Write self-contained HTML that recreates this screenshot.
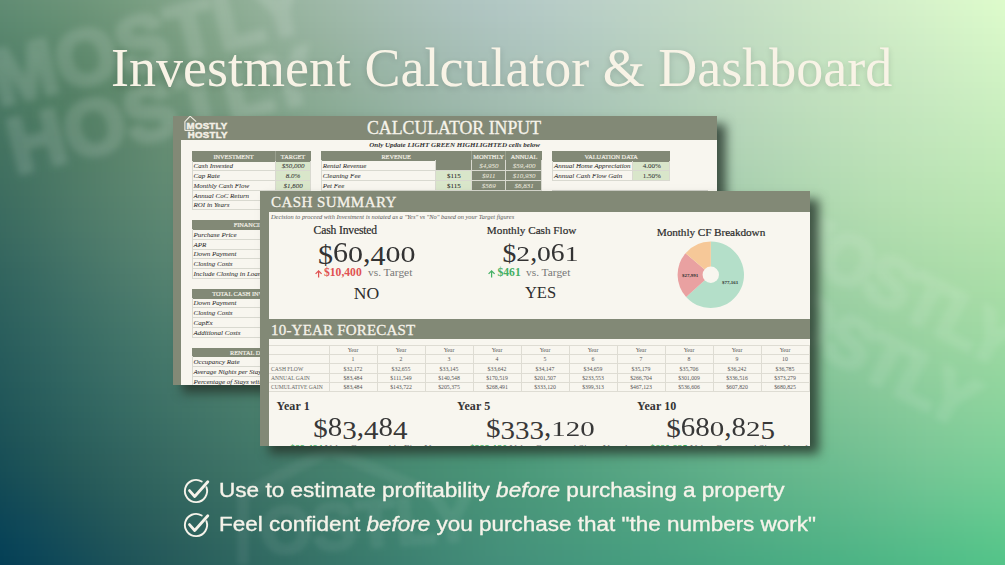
<!DOCTYPE html>
<html><head><meta charset="utf-8">
<style>
*{margin:0;padding:0;box-sizing:border-box}
html,body{width:1005px;height:565px;overflow:hidden}
body{position:relative;font-family:"Liberation Serif",serif;background:#3a7a6a}
.t{position:absolute;white-space:nowrap;line-height:1}
.r{position:absolute}
.layer{position:absolute;left:0;top:0;width:1005px;height:565px}
#bgB{background:linear-gradient(90deg,#0c4258 0%,#1e6466 28%,#3b8a72 50%,#4ea882 75%,#5cc48c 100%)}
#bgM{background:linear-gradient(90deg,#356760 0%,#4a8270 30%,#7aa890 55%,#9cd0a4 80%,#aadda8 100%);
  -webkit-mask-image:linear-gradient(180deg,transparent 0%,#000 50%,transparent 100%)}
#bgT{background:linear-gradient(90deg,#5e8a70 0%,#7a9e86 25%,#b0c6c2 50%,#c4e2c6 75%,#d8f7c8 100%);
  -webkit-mask-image:linear-gradient(180deg,#000 0%,transparent 50%)}
.wm{position:absolute;font-family:"Liberation Sans",sans-serif;font-weight:700;color:rgba(255,255,255,.10);-webkit-text-stroke:3px rgba(255,255,255,.10);line-height:1;filter:blur(2.5px);white-space:nowrap}
.ds{display:inline-block;line-height:1;transform-origin:50% 83.75%;transform:translateY(.05em) scaleY(.9)}
.dx,.da,.dd{display:inline-block;line-height:1;transform-origin:50% 83.75%}
.dx{transform:scaleY(.735)}
.da{transform:scaleY(.95)}
.dd{transform:translateY(.115em) scaleY(.89)}
.card{position:absolute;background:#f8f6ef;overflow:hidden}
.shadow{position:absolute;box-shadow:9px 8px 10px 0px rgba(38,52,42,.8)}
</style></head><body>

<div style="position:absolute;left:-20px;top:-20px;width:1045px;height:610px;filter:blur(3px)">
<div style="position:absolute;left:0;top:0px;width:1045px;height:7px;background:linear-gradient(90deg,#618d75 0.0%,#699379 4.5%,#70987c 9.1%,#799e82 13.6%,#83a58a 18.2%,#8dad94 22.7%,#97b49e 27.3%,#9fb9a8 31.8%,#a6beb1 36.4%,#acc2ba 40.9%,#b1c6c1 45.5%,#b5cac7 50.0%,#b9cec9 54.5%,#bdd2c9 59.1%,#c1d7c9 63.6%,#c4dbc8 68.2%,#c7e0c7 72.7%,#cce5c8 77.3%,#d0eac9 81.8%,#d5f0cb 86.4%,#daf5cc 90.9%,#defacd 95.5%,#e2ffce 100.0%)"></div>
<div style="position:absolute;left:0;top:6px;width:1045px;height:7px;background:linear-gradient(90deg,#608c74 0.0%,#679177 4.5%,#6f977b 9.1%,#779d81 13.6%,#82a489 18.2%,#8cac93 22.7%,#96b39d 27.3%,#9eb9a7 31.8%,#a5bdb0 36.4%,#abc1b9 40.9%,#b0c5c0 45.5%,#b4c9c6 50.0%,#b8cdc8 54.5%,#bcd2c9 59.1%,#c0d6c8 63.6%,#c3dbc7 68.2%,#c6dfc7 72.7%,#cbe4c7 77.3%,#d0eac9 81.8%,#d4efca 86.4%,#d9f4cb 90.9%,#ddfacc 95.5%,#e1ffcd 100.0%)"></div>
<div style="position:absolute;left:0;top:12px;width:1045px;height:7px;background:linear-gradient(90deg,#5f8a73 0.0%,#669076 4.5%,#6d967a 9.1%,#769c80 13.6%,#80a388 18.2%,#8bab92 22.7%,#95b29c 27.3%,#9db8a6 31.8%,#a4bdaf 36.4%,#aac1b8 40.9%,#afc5bf 45.5%,#b3c9c5 50.0%,#b8cdc7 54.5%,#bbd1c8 59.1%,#bfd5c7 63.6%,#c2dac7 68.2%,#c6dfc6 72.7%,#cae4c7 77.3%,#cfe9c8 81.8%,#d3eeca 86.4%,#d8f4cb 90.9%,#dcf9cc 95.5%,#e0fecd 100.0%)"></div>
<div style="position:absolute;left:0;top:18px;width:1045px;height:7px;background:linear-gradient(90deg,#5d8972 0.0%,#658f75 4.5%,#6c9479 9.1%,#749b7e 13.6%,#7fa287 18.2%,#8aaa91 22.7%,#94b29b 27.3%,#9cb7a5 31.8%,#a3bcae 36.4%,#a9c0b7 40.9%,#aec4bf 45.5%,#b2c8c4 50.0%,#b7ccc7 54.5%,#bbd0c7 59.1%,#bed5c7 63.6%,#c1d9c6 68.2%,#c5dec5 72.7%,#c9e3c6 77.3%,#cee8c7 81.8%,#d2eec9 86.4%,#d7f3ca 90.9%,#dbf8cb 95.5%,#dffdcc 100.0%)"></div>
<div style="position:absolute;left:0;top:24px;width:1045px;height:7px;background:linear-gradient(90deg,#5c8871 0.0%,#638e74 4.5%,#6a9377 9.1%,#739a7d 13.6%,#7ea186 18.2%,#89aa90 22.7%,#93b19a 27.3%,#9bb6a4 31.8%,#a2bbad 36.4%,#a8bfb6 40.9%,#adc3be 45.5%,#b1c7c3 50.0%,#b6cbc6 54.5%,#bad0c6 59.1%,#bdd4c6 63.6%,#c1d9c5 68.2%,#c4ddc5 72.7%,#c8e3c5 77.3%,#cde8c7 81.8%,#d2edc8 86.4%,#d6f2ca 90.9%,#daf8ca 95.5%,#defdcb 100.0%)"></div>
<div style="position:absolute;left:0;top:30px;width:1045px;height:7px;background:linear-gradient(90deg,#5b8770 0.0%,#628d73 4.5%,#699276 9.1%,#72987c 13.6%,#7ca084 18.2%,#88a98f 22.7%,#92b099 27.3%,#9ab6a3 31.8%,#a1baac 36.4%,#a7bfb5 40.9%,#acc2bd 45.5%,#b1c6c3 50.0%,#b5cbc5 54.5%,#b9cfc5 59.1%,#bcd4c5 63.6%,#c0d8c5 68.2%,#c3ddc4 72.7%,#c8e2c5 77.3%,#cce7c6 81.8%,#d1edc8 86.4%,#d5f2c9 90.9%,#d9f7ca 95.5%,#ddfccb 100.0%)"></div>
<div style="position:absolute;left:0;top:36px;width:1045px;height:7px;background:linear-gradient(90deg,#59866f 0.0%,#608c72 4.5%,#679175 9.1%,#70977b 13.6%,#7b9f83 18.2%,#86a88e 22.7%,#91af98 27.3%,#99b5a2 31.8%,#a0baab 36.4%,#a6beb4 40.9%,#abc2bc 45.5%,#b0c6c2 50.0%,#b4cac4 54.5%,#b8cfc5 59.1%,#bcd3c4 63.6%,#bfd8c4 68.2%,#c2dcc3 72.7%,#c7e2c4 77.3%,#cbe7c6 81.8%,#d0ecc7 86.4%,#d4f1c8 90.9%,#d8f6c9 95.5%,#dcfbca 100.0%)"></div>
<div style="position:absolute;left:0;top:42px;width:1045px;height:7px;background:linear-gradient(90deg,#58856e 0.0%,#5f8b71 4.5%,#668f73 9.1%,#6f9679 13.6%,#7a9e82 18.2%,#85a78c 22.7%,#90ae97 27.3%,#98b4a1 31.8%,#9fb9aa 36.4%,#a5bdb3 40.9%,#aac1bb 45.5%,#afc5c0 50.0%,#b3c9c3 54.5%,#b7cec4 59.1%,#bbd3c4 63.6%,#bed7c3 68.2%,#c2dcc3 72.7%,#c6e1c4 77.3%,#cbe6c5 81.8%,#cfebc7 86.4%,#d3f1c8 90.9%,#d7f6c9 95.5%,#dbfbc9 100.0%)"></div>
<div style="position:absolute;left:0;top:48px;width:1045px;height:7px;background:linear-gradient(90deg,#56846d 0.0%,#5d8a70 4.5%,#648e72 9.1%,#6d9578 13.6%,#799d81 18.2%,#84a68b 22.7%,#8ead96 27.3%,#97b3a0 31.8%,#9eb8a9 36.4%,#a4bcb2 40.9%,#a9c0b9 45.5%,#aec4bf 50.0%,#b2c9c2 54.5%,#b6cdc3 59.1%,#bad2c3 63.6%,#bdd7c3 68.2%,#c1dcc2 72.7%,#c5e1c3 77.3%,#cae6c5 81.8%,#ceebc6 86.4%,#d2f0c7 90.9%,#d6f5c8 95.5%,#dafac9 100.0%)"></div>
<div style="position:absolute;left:0;top:54px;width:1045px;height:7px;background:linear-gradient(90deg,#55836c 0.0%,#5c886e 4.5%,#628d71 9.1%,#6c9377 13.6%,#779c80 18.2%,#83a58a 22.7%,#8dac95 27.3%,#96b29f 31.8%,#9db7a8 36.4%,#a3bcb1 40.9%,#a8c0b8 45.5%,#adc4be 50.0%,#b1c8c1 54.5%,#b5cdc2 59.1%,#b9d1c2 63.6%,#bdd6c2 68.2%,#c0dbc2 72.7%,#c5e0c3 77.3%,#c9e5c4 81.8%,#cdeac5 86.4%,#d1efc7 90.9%,#d5f4c7 95.5%,#d9f9c8 100.0%)"></div>
<div style="position:absolute;left:0;top:60px;width:1045px;height:7px;background:linear-gradient(90deg,#54826b 0.0%,#5a876d 4.5%,#618b6f 9.1%,#6a9275 13.6%,#769b7f 18.2%,#82a489 22.7%,#8cac94 27.3%,#95b29d 31.8%,#9cb6a7 36.4%,#a2bbb0 40.9%,#a7bfb7 45.5%,#acc3bd 50.0%,#b0c7c0 54.5%,#b4ccc1 59.1%,#b8d1c1 63.6%,#bcd6c1 68.2%,#c0dbc1 72.7%,#c4e0c2 77.3%,#c8e5c3 81.8%,#cceac5 86.4%,#d0efc6 90.9%,#d4f4c7 95.5%,#d8f9c7 100.0%)"></div>
<div style="position:absolute;left:0;top:66px;width:1045px;height:7px;background:linear-gradient(90deg,#52806a 0.0%,#59866c 4.5%,#5f8a6e 9.1%,#699174 13.6%,#759a7e 18.2%,#81a388 22.7%,#8bab93 27.3%,#93b19c 31.8%,#9ab6a6 36.4%,#a1baae 40.9%,#a6beb6 45.5%,#abc2bc 50.0%,#afc7bf 54.5%,#b3cbc0 59.1%,#b7d0c0 63.6%,#bbd5c1 68.2%,#bfdac1 72.7%,#c3dfc2 77.3%,#c8e4c3 81.8%,#cce9c4 86.4%,#cfeec5 90.9%,#d3f3c6 95.5%,#d6f8c7 100.0%)"></div>
<div style="position:absolute;left:0;top:72px;width:1045px;height:7px;background:linear-gradient(90deg,#517f69 0.0%,#57846b 4.5%,#5e896d 9.1%,#679073 13.6%,#74997d 18.2%,#7fa287 22.7%,#8aaa92 27.3%,#92b09b 31.8%,#99b5a5 36.4%,#a0b9ad 40.9%,#a5bdb5 45.5%,#aac2ba 50.0%,#afc6be 54.5%,#b3cbbf 59.1%,#b6d0c0 63.6%,#bad5c0 68.2%,#bedac0 72.7%,#c3dfc1 77.3%,#c7e4c2 81.8%,#cbe9c4 86.4%,#ceedc5 90.9%,#d2f2c5 95.5%,#d5f7c6 100.0%)"></div>
<div style="position:absolute;left:0;top:78px;width:1045px;height:7px;background:linear-gradient(90deg,#507e68 0.0%,#56836a 4.5%,#5c876b 9.1%,#668f72 13.6%,#72987c 18.2%,#7ea186 22.7%,#89a991 27.3%,#91af9a 31.8%,#98b4a4 36.4%,#9fb9ac 40.9%,#a4bdb4 45.5%,#a9c1b9 50.0%,#aec5bc 54.5%,#b2cabe 59.1%,#b6cfbf 63.6%,#bad4bf 68.2%,#bedac0 72.7%,#c2dfc0 77.3%,#c6e4c2 81.8%,#cae8c3 86.4%,#cdedc4 90.9%,#d1f2c5 95.5%,#d4f7c5 100.0%)"></div>
<div style="position:absolute;left:0;top:84px;width:1045px;height:7px;background:linear-gradient(90deg,#4e7d67 0.0%,#548268 4.5%,#5b866a 9.1%,#658e71 13.6%,#71977b 18.2%,#7da085 22.7%,#88a890 27.3%,#90ae99 31.8%,#97b3a3 36.4%,#9db8ab 40.9%,#a3bcb2 45.5%,#a8c0b8 50.0%,#adc5bb 54.5%,#b1cabd 59.1%,#b5cfbe 63.6%,#b9d4bf 68.2%,#bdd9bf 72.7%,#c1dec0 77.3%,#c5e3c1 81.8%,#c9e8c2 86.4%,#ccecc4 90.9%,#d0f1c4 95.5%,#d3f6c5 100.0%)"></div>
<div style="position:absolute;left:0;top:90px;width:1045px;height:7px;background:linear-gradient(90deg,#4d7c66 0.0%,#538067 4.5%,#598569 9.1%,#648d70 13.6%,#70967a 18.2%,#7c9f84 22.7%,#86a78f 27.3%,#8fae98 31.8%,#96b3a1 36.4%,#9cb7aa 40.9%,#a2bbb1 45.5%,#a7bfb7 50.0%,#acc4ba 54.5%,#b0c9bc 59.1%,#b4cebd 63.6%,#b8d3be 68.2%,#bdd9bf 72.7%,#c1debf 77.3%,#c5e3c0 81.8%,#c8e7c2 86.4%,#ccebc3 90.9%,#cff0c4 95.5%,#d2f5c4 100.0%)"></div>
<div style="position:absolute;left:0;top:96px;width:1045px;height:7px;background:linear-gradient(90deg,#4c7b66 0.0%,#527f66 4.5%,#588368 9.1%,#628c6f 13.6%,#6f9579 18.2%,#7b9e83 22.7%,#85a68e 27.3%,#8ead97 31.8%,#95b2a0 36.4%,#9bb6a9 40.9%,#a1bbb0 45.5%,#a6bfb5 50.0%,#abc4b9 54.5%,#afc9bb 59.1%,#b3cebc 63.6%,#b7d3bd 68.2%,#bcd8be 72.7%,#c0ddbf 77.3%,#c4e2c0 81.8%,#c7e7c1 86.4%,#cbebc2 90.9%,#cef0c3 95.5%,#d1f5c3 100.0%)"></div>
<div style="position:absolute;left:0;top:102px;width:1045px;height:7px;background:linear-gradient(90deg,#4b7a65 0.0%,#507e65 4.5%,#568267 9.1%,#618b6e 13.6%,#6e9478 18.2%,#7a9e83 22.7%,#84a68d 27.3%,#8dac96 31.8%,#94b19f 36.4%,#9ab6a8 40.9%,#a0baaf 45.5%,#a5beb4 50.0%,#aac3b8 54.5%,#aec8ba 59.1%,#b2cdbb 63.6%,#b7d3bc 68.2%,#bbd8bd 72.7%,#bfddbe 77.3%,#c3e2bf 81.8%,#c6e6c0 86.4%,#caeac2 90.9%,#cdefc2 95.5%,#d0f4c3 100.0%)"></div>
<div style="position:absolute;left:0;top:108px;width:1045px;height:7px;background:linear-gradient(90deg,#497864 0.0%,#4f7d65 4.5%,#558166 9.1%,#608a6d 13.6%,#6d9477 18.2%,#799d82 22.7%,#83a58c 27.3%,#8cab95 31.8%,#93b09e 36.4%,#99b5a6 40.9%,#9fb9ad 45.5%,#a4bdb3 50.0%,#a9c2b6 54.5%,#adc7b9 59.1%,#b1cdba 63.6%,#b6d2bc 68.2%,#bad8bd 72.7%,#beddbe 77.3%,#c2e1bf 81.8%,#c6e6c0 86.4%,#c9eac1 90.9%,#cceec2 95.5%,#cff3c2 100.0%)"></div>
<div style="position:absolute;left:0;top:114px;width:1045px;height:7px;background:linear-gradient(90deg,#487763 0.0%,#4e7c64 4.5%,#548065 9.1%,#5f896d 13.6%,#6c9377 18.2%,#789c81 22.7%,#82a48b 27.3%,#8aaa94 31.8%,#92b09d 36.4%,#98b4a5 40.9%,#9eb8ac 45.5%,#a3bdb1 50.0%,#a8c2b5 54.5%,#acc7b8 59.1%,#b0ccba 63.6%,#b5d2bb 68.2%,#bad7bc 72.7%,#bedcbd 77.3%,#c1e1be 81.8%,#c5e5bf 86.4%,#c8e9c0 90.9%,#cbeec1 95.5%,#cef3c1 100.0%)"></div>
<div style="position:absolute;left:0;top:120px;width:1045px;height:7px;background:linear-gradient(90deg,#477663 0.0%,#4d7b63 4.5%,#537f65 9.1%,#5e886c 13.6%,#6b9276 18.2%,#779b80 22.7%,#81a38a 27.3%,#89aa93 31.8%,#90af9c 36.4%,#97b3a4 40.9%,#9db8ab 45.5%,#a2bcb0 50.0%,#a6c1b4 54.5%,#abc6b7 59.1%,#afccb9 63.6%,#b4d1ba 68.2%,#b9d7bc 72.7%,#bddcbd 77.3%,#c1e1bd 81.8%,#c4e5be 86.4%,#c7e9c0 90.9%,#caedc0 95.5%,#cdf2c0 100.0%)"></div>
<div style="position:absolute;left:0;top:126px;width:1045px;height:7px;background:linear-gradient(90deg,#467562 0.0%,#4c7a63 4.5%,#527f64 9.1%,#5e876c 13.6%,#6a9176 18.2%,#769a80 22.7%,#80a289 27.3%,#88a992 31.8%,#8fae9b 36.4%,#96b3a3 40.9%,#9bb7aa 45.5%,#a1bbaf 50.0%,#a5c0b3 54.5%,#aac6b6 59.1%,#aecbb8 63.6%,#b3d1b9 68.2%,#b8d6bb 72.7%,#bcdcbc 77.3%,#c0e0bd 81.8%,#c3e4be 86.4%,#c6e8bf 90.9%,#c9edbf 95.5%,#ccf1c0 100.0%)"></div>
<div style="position:absolute;left:0;top:132px;width:1045px;height:7px;background:linear-gradient(90deg,#457462 0.0%,#4b7962 4.5%,#527e64 9.1%,#5d876c 13.6%,#699175 18.2%,#759a7f 22.7%,#7fa288 27.3%,#87a891 31.8%,#8ead9a 36.4%,#94b2a2 40.9%,#9ab6a8 45.5%,#a0bbae 50.0%,#a4c0b2 54.5%,#a9c5b5 59.1%,#adcbb7 63.6%,#b2d0b9 68.2%,#b7d6ba 72.7%,#bbdbbb 77.3%,#bfe0bc 81.8%,#c2e4bd 86.4%,#c5e8be 90.9%,#c8ecbf 95.5%,#cbf1bf 100.0%)"></div>
<div style="position:absolute;left:0;top:138px;width:1045px;height:7px;background:linear-gradient(90deg,#447461 0.0%,#4a7862 4.5%,#517e64 9.1%,#5c866b 13.6%,#689075 18.2%,#74997e 22.7%,#7ea187 27.3%,#86a790 31.8%,#8dad99 36.4%,#93b1a1 40.9%,#99b6a7 45.5%,#9ebaac 50.0%,#a3bfb1 54.5%,#a7c5b4 59.1%,#accab6 63.6%,#b1d0b8 68.2%,#b6d5b9 72.7%,#badbba 77.3%,#bedfbb 81.8%,#c1e4bc 86.4%,#c4e7bd 90.9%,#c7ecbe 95.5%,#caf0be 100.0%)"></div>
<div style="position:absolute;left:0;top:144px;width:1045px;height:7px;background:linear-gradient(90deg,#437361 0.0%,#497862 4.5%,#517d64 9.1%,#5c866b 13.6%,#688f74 18.2%,#73987e 22.7%,#7ca087 27.3%,#85a690 31.8%,#8cac98 36.4%,#92b19f 40.9%,#98b5a6 45.5%,#9dbaab 50.0%,#a2bfaf 54.5%,#a6c4b2 59.1%,#abcab5 63.6%,#b0cfb7 68.2%,#b5d5b9 72.7%,#b9daba 77.3%,#bddfbb 81.8%,#c0e3bc 86.4%,#c3e7bd 90.9%,#c6ebbd 95.5%,#c9f0bd 100.0%)"></div>
<div style="position:absolute;left:0;top:150px;width:1045px;height:7px;background:linear-gradient(90deg,#427260 0.0%,#497762 4.5%,#517d64 9.1%,#5b856b 13.6%,#678f74 18.2%,#72987d 22.7%,#7b9f86 27.3%,#83a68f 31.8%,#8aab97 36.4%,#91b09e 40.9%,#97b4a5 45.5%,#9cb9aa 50.0%,#a1beae 54.5%,#a5c3b1 59.1%,#aac9b4 63.6%,#afcfb6 68.2%,#b4d5b8 72.7%,#b8dab9 77.3%,#bcdfba 81.8%,#c0e3bb 86.4%,#c2e7bc 90.9%,#c5eabc 95.5%,#c8efbd 100.0%)"></div>
<div style="position:absolute;left:0;top:156px;width:1045px;height:7px;background:linear-gradient(90deg,#417160 0.0%,#487662 4.5%,#507d65 9.1%,#5b856b 13.6%,#668e74 18.2%,#71977d 22.7%,#7a9e85 27.3%,#82a58e 31.8%,#89aa96 36.4%,#8faf9d 40.9%,#95b4a3 45.5%,#9bb8a9 50.0%,#9fbdad 54.5%,#a4c3b0 59.1%,#a9c8b3 63.6%,#aeceb5 68.2%,#b3d4b7 72.7%,#b8d9b8 77.3%,#bbdeb9 81.8%,#bfe3ba 86.4%,#c2e6bb 90.9%,#c4eabb 95.5%,#c7eebc 100.0%)"></div>
<div style="position:absolute;left:0;top:162px;width:1045px;height:7px;background:linear-gradient(90deg,#407060 0.0%,#487661 4.5%,#507c65 9.1%,#5b856b 13.6%,#668e74 18.2%,#70967c 22.7%,#799e85 27.3%,#81a48d 31.8%,#88aa95 36.4%,#8eae9c 40.9%,#94b3a2 45.5%,#99b8a7 50.0%,#9ebdac 54.5%,#a3c2af 59.1%,#a8c8b2 63.6%,#adceb4 68.2%,#b2d4b6 72.7%,#b7d9b7 77.3%,#badeb8 81.8%,#bee2b9 86.4%,#c1e6ba 90.9%,#c3eabb 95.5%,#c6eebb 100.0%)"></div>
<div style="position:absolute;left:0;top:168px;width:1045px;height:7px;background:linear-gradient(90deg,#3f6f5f 0.0%,#477561 4.5%,#507c65 9.1%,#5a846c 13.6%,#658d73 18.2%,#6f967c 22.7%,#789d84 27.3%,#80a38c 31.8%,#87a994 36.4%,#8dae9b 40.9%,#93b2a1 45.5%,#98b7a6 50.0%,#9dbcab 54.5%,#a1c2ae 59.1%,#a6c7b1 63.6%,#accdb3 68.2%,#b1d3b5 72.7%,#b5d8b7 77.3%,#b9ddb8 81.8%,#bde2b9 86.4%,#c0e5b9 90.9%,#c2e9ba 95.5%,#c5edba 100.0%)"></div>
<div style="position:absolute;left:0;top:174px;width:1045px;height:7px;background:linear-gradient(90deg,#3f6f5f 0.0%,#467562 4.5%,#507c66 9.1%,#5a846c 13.6%,#648d73 18.2%,#6e957b 22.7%,#779c83 27.3%,#7fa38b 31.8%,#85a893 36.4%,#8bad9a 40.9%,#91b2a0 45.5%,#96b6a5 50.0%,#9bbca9 54.5%,#a0c1ad 59.1%,#a5c7b0 63.6%,#abcdb2 68.2%,#b0d3b4 72.7%,#b4d8b6 77.3%,#b8ddb7 81.8%,#bce1b8 86.4%,#bfe5b9 90.9%,#c1e9b9 95.5%,#c4edb9 100.0%)"></div>
<div style="position:absolute;left:0;top:180px;width:1045px;height:7px;background:linear-gradient(90deg,#3e6e5f 0.0%,#467462 4.5%,#4f7c66 9.1%,#5a846c 13.6%,#648c73 18.2%,#6d947b 22.7%,#769c83 27.3%,#7da28a 31.8%,#84a792 36.4%,#8aac99 40.9%,#90b19f 45.5%,#95b6a4 50.0%,#9abba8 54.5%,#9fc1ac 59.1%,#a4c6af 63.6%,#a9ccb1 68.2%,#afd2b4 72.7%,#b3d7b5 77.3%,#b7ddb6 81.8%,#bbe1b7 86.4%,#bee5b8 90.9%,#c0e8b8 95.5%,#c3ecb9 100.0%)"></div>
<div style="position:absolute;left:0;top:186px;width:1045px;height:7px;background:linear-gradient(90deg,#3d6d5f 0.0%,#457462 4.5%,#4f7c66 9.1%,#59846c 13.6%,#638c73 18.2%,#6c947a 22.7%,#759b82 27.3%,#7ca18a 31.8%,#83a791 36.4%,#89ac98 40.9%,#8eb09e 45.5%,#94b5a3 50.0%,#99baa7 54.5%,#9dc0ab 59.1%,#a3c6ae 63.6%,#a8ccb0 68.2%,#add1b3 72.7%,#b2d7b4 77.3%,#b6dcb5 81.8%,#bae1b6 86.4%,#bde4b7 90.9%,#bfe8b7 95.5%,#c2ecb8 100.0%)"></div>
<div style="position:absolute;left:0;top:192px;width:1045px;height:7px;background:linear-gradient(90deg,#3c6d5f 0.0%,#457362 4.5%,#4f7b67 9.1%,#59836d 13.6%,#628b73 18.2%,#6b937a 22.7%,#749a81 27.3%,#7ba089 31.8%,#81a690 36.4%,#87ab97 40.9%,#8db09c 45.5%,#92b5a2 50.0%,#97baa6 54.5%,#9cbfaa 59.1%,#a1c5ad 63.6%,#a7cbb0 68.2%,#acd1b2 72.7%,#b1d7b3 77.3%,#b5dcb4 81.8%,#b9e0b5 86.4%,#bce4b6 90.9%,#bee7b6 95.5%,#c1ebb7 100.0%)"></div>
<div style="position:absolute;left:0;top:198px;width:1045px;height:7px;background:linear-gradient(90deg,#3b6c5e 0.0%,#447362 4.5%,#4f7b67 9.1%,#59836d 13.6%,#628b73 18.2%,#6a927a 22.7%,#739981 27.3%,#7aa088 31.8%,#80a58f 36.4%,#86aa95 40.9%,#8caf9b 45.5%,#91b4a0 50.0%,#96b9a5 54.5%,#9bbfa9 59.1%,#a0c5ac 63.6%,#a6cbaf 68.2%,#abd0b1 72.7%,#b0d6b2 77.3%,#b4dbb4 81.8%,#b8e0b4 86.4%,#bbe3b5 90.9%,#bde7b6 95.5%,#bfeab6 100.0%)"></div>
<div style="position:absolute;left:0;top:204px;width:1045px;height:7px;background:linear-gradient(90deg,#3a6b5e 0.0%,#447262 4.5%,#4e7b67 9.1%,#58836d 13.6%,#618a73 18.2%,#699279 22.7%,#719980 27.3%,#799f87 31.8%,#7fa48e 36.4%,#85aa94 40.9%,#8aae9a 45.5%,#8fb39f 50.0%,#94b9a4 54.5%,#99bea8 59.1%,#9fc4ab 63.6%,#a4caae 68.2%,#aad0b0 72.7%,#afd5b2 77.3%,#b3dbb3 81.8%,#b7e0b4 86.4%,#bae3b4 90.9%,#bce6b5 95.5%,#beeab5 100.0%)"></div>
<div style="position:absolute;left:0;top:210px;width:1045px;height:7px;background:linear-gradient(90deg,#3a6a5e 0.0%,#437262 4.5%,#4e7b68 9.1%,#58836d 13.6%,#608a73 18.2%,#699179 22.7%,#709880 27.3%,#779e87 31.8%,#7ea48d 36.4%,#83a993 40.9%,#89ae99 45.5%,#8eb39e 50.0%,#93b8a3 54.5%,#98bea6 59.1%,#9dc4aa 63.6%,#a3c9ad 68.2%,#a9cfaf 72.7%,#aed5b1 77.3%,#b2dab2 81.8%,#b6dfb3 86.4%,#b9e2b3 90.9%,#bbe5b4 95.5%,#bde9b4 100.0%)"></div>
<div style="position:absolute;left:0;top:216px;width:1045px;height:7px;background:linear-gradient(90deg,#396a5e 0.0%,#427162 4.5%,#4e7a68 9.1%,#57826d 13.6%,#5f8973 18.2%,#689179 22.7%,#6f977f 27.3%,#769e86 31.8%,#7ca38c 36.4%,#82a892 40.9%,#87ad98 45.5%,#8cb29d 50.0%,#91b7a1 54.5%,#97bda5 59.1%,#9cc3a9 63.6%,#a2c9ac 68.2%,#a7cfae 72.7%,#acd4b0 77.3%,#b1dab1 81.8%,#b5dfb2 86.4%,#b8e2b3 90.9%,#bae5b3 95.5%,#bce9b4 100.0%)"></div>
<div style="position:absolute;left:0;top:222px;width:1045px;height:7px;background:linear-gradient(90deg,#38695e 0.0%,#427162 4.5%,#4d7a68 9.1%,#56826d 13.6%,#5f8972 18.2%,#679078 22.7%,#6e977f 27.3%,#759d85 31.8%,#7ba28b 36.4%,#80a791 40.9%,#86ac97 45.5%,#8bb19c 50.0%,#90b7a0 54.5%,#95bca4 59.1%,#9bc2a8 63.6%,#a0c8ab 68.2%,#a6cead 72.7%,#abd4af 77.3%,#b0d9b0 81.8%,#b4deb1 86.4%,#b7e1b2 90.9%,#b9e4b2 95.5%,#bbe8b3 100.0%)"></div>
<div style="position:absolute;left:0;top:228px;width:1045px;height:7px;background:linear-gradient(90deg,#37685e 0.0%,#417062 4.5%,#4c7968 9.1%,#56816d 13.6%,#5e8872 18.2%,#668f78 22.7%,#6d967e 27.3%,#749c84 31.8%,#7aa28a 36.4%,#7fa790 40.9%,#84ac96 45.5%,#89b19b 50.0%,#8eb69f 54.5%,#94bca3 59.1%,#99c2a7 63.6%,#9fc8aa 68.2%,#a5ceac 72.7%,#aad3ae 77.3%,#afd9af 81.8%,#b3ddb0 86.4%,#b6e1b1 90.9%,#b8e4b1 95.5%,#bae7b2 100.0%)"></div>
<div style="position:absolute;left:0;top:234px;width:1045px;height:7px;background:linear-gradient(90deg,#36685e 0.0%,#407062 4.5%,#4c7968 9.1%,#55816d 13.6%,#5d8872 18.2%,#658f78 22.7%,#6c957d 27.3%,#729b84 31.8%,#78a18a 36.4%,#7ea68f 40.9%,#83ab95 45.5%,#88b09a 50.0%,#8db69e 54.5%,#92bba2 59.1%,#98c1a6 63.6%,#9ec7a9 68.2%,#a3cdab 72.7%,#a9d3ad 77.3%,#add8ae 81.8%,#b2ddaf 86.4%,#b5e0b0 90.9%,#b7e3b0 95.5%,#b9e7b1 100.0%)"></div>
<div style="position:absolute;left:0;top:240px;width:1045px;height:7px;background:linear-gradient(90deg,#35675e 0.0%,#3f6f62 4.5%,#4b7868 9.1%,#54806d 13.6%,#5c8772 18.2%,#648e77 22.7%,#6b957d 27.3%,#719b83 31.8%,#77a089 36.4%,#7ca58e 40.9%,#81aa94 45.5%,#86b099 50.0%,#8bb59d 54.5%,#91bba1 59.1%,#96c1a5 63.6%,#9cc7a8 68.2%,#a2ccaa 72.7%,#a7d2ac 77.3%,#acd7ae 81.8%,#b0dcae 86.4%,#b3e0af 90.9%,#b6e3b0 95.5%,#b7e6b0 100.0%)"></div>
<div style="position:absolute;left:0;top:246px;width:1045px;height:7px;background:linear-gradient(90deg,#35665e 0.0%,#3f6e62 4.5%,#4a7868 9.1%,#53806d 13.6%,#5b8772 18.2%,#638e77 22.7%,#6a947c 27.3%,#709a82 31.8%,#76a088 36.4%,#7ba58d 40.9%,#80aa93 45.5%,#85af97 50.0%,#8ab49c 54.5%,#8fbaa0 59.1%,#95c0a4 63.6%,#9bc6a7 68.2%,#a1cca9 72.7%,#a6d2ab 77.3%,#abd7ad 81.8%,#afdcae 86.4%,#b2dfae 90.9%,#b4e2af 95.5%,#b6e6b0 100.0%)"></div>
<div style="position:absolute;left:0;top:252px;width:1045px;height:7px;background:linear-gradient(90deg,#34665d 0.0%,#3e6e62 4.5%,#497768 9.1%,#537f6d 13.6%,#5a8672 18.2%,#628d76 22.7%,#69937c 27.3%,#6f9981 31.8%,#749f87 36.4%,#79a48c 40.9%,#7ea992 45.5%,#83ae96 50.0%,#88b49b 54.5%,#8eba9f 59.1%,#93bfa3 63.6%,#99c5a6 68.2%,#9fcba8 72.7%,#a5d1aa 77.3%,#aad6ac 81.8%,#aedbad 86.4%,#b1dead 90.9%,#b3e1ae 95.5%,#b5e5af 100.0%)"></div>
<div style="position:absolute;left:0;top:258px;width:1045px;height:7px;background:linear-gradient(90deg,#33655d 0.0%,#3d6d62 4.5%,#487668 9.1%,#527e6d 13.6%,#5a8671 18.2%,#618c76 22.7%,#68937b 27.3%,#6d9981 31.8%,#739e86 36.4%,#78a38b 40.9%,#7ca890 45.5%,#81ae95 50.0%,#86b39a 54.5%,#8cb99e 59.1%,#92bfa2 63.6%,#98c5a5 68.2%,#9ecba7 72.7%,#a3d0a9 77.3%,#a8d6ab 81.8%,#addaac 86.4%,#b0dead 90.9%,#b2e1ad 95.5%,#b4e4ae 100.0%)"></div>
<div style="position:absolute;left:0;top:264px;width:1045px;height:7px;background:linear-gradient(90deg,#32645d 0.0%,#3c6c62 4.5%,#477668 9.1%,#517e6d 13.6%,#598571 18.2%,#608c76 22.7%,#66927b 27.3%,#6c9880 31.8%,#719d85 36.4%,#76a38b 40.9%,#7ba88f 45.5%,#80ad94 50.0%,#85b399 54.5%,#8ab89d 59.1%,#90bea1 63.6%,#96c4a4 68.2%,#9ccaa7 72.7%,#a2d0a9 77.3%,#a7d5aa 81.8%,#abdaab 86.4%,#aeddac 90.9%,#b1e0ac 95.5%,#b2e4ad 100.0%)"></div>
<div style="position:absolute;left:0;top:270px;width:1045px;height:7px;background:linear-gradient(90deg,#31635d 0.0%,#3b6c62 4.5%,#467567 9.1%,#507d6c 13.6%,#588471 18.2%,#5f8b75 22.7%,#65917a 27.3%,#6b977f 31.8%,#709d85 36.4%,#75a28a 40.9%,#79a78e 45.5%,#7eac93 50.0%,#83b298 54.5%,#89b89c 59.1%,#8fbea0 63.6%,#95c4a3 68.2%,#9bc9a6 72.7%,#a1cfa8 77.3%,#a6d4a9 81.8%,#aad9aa 86.4%,#addcab 90.9%,#afdfab 95.5%,#b1e3ac 100.0%)"></div>
<div style="position:absolute;left:0;top:276px;width:1045px;height:7px;background:linear-gradient(90deg,#30635d 0.0%,#3a6b62 4.5%,#457467 9.1%,#4f7d6c 13.6%,#578471 18.2%,#5e8a75 22.7%,#64917a 27.3%,#6a977f 31.8%,#6f9c84 36.4%,#73a189 40.9%,#78a68d 45.5%,#7dac92 50.0%,#82b197 54.5%,#87b79b 59.1%,#8dbd9f 63.6%,#93c3a2 68.2%,#99c9a5 72.7%,#9fcea7 77.3%,#a4d4a8 81.8%,#a9d8a9 86.4%,#acdcaa 90.9%,#aedfab 95.5%,#b0e3ac 100.0%)"></div>
<div style="position:absolute;left:0;top:282px;width:1045px;height:7px;background:linear-gradient(90deg,#2f625d 0.0%,#396a61 4.5%,#447367 9.1%,#4e7c6c 13.6%,#568370 18.2%,#5d8a75 22.7%,#639079 27.3%,#69967e 31.8%,#6d9b83 36.4%,#72a188 40.9%,#76a68c 45.5%,#7bab91 50.0%,#80b195 54.5%,#86b69a 59.1%,#8cbc9e 63.6%,#92c2a1 68.2%,#98c8a4 72.7%,#9ecea6 77.3%,#a3d3a8 81.8%,#a7d7a9 86.4%,#abdba9 90.9%,#addeaa 95.5%,#afe2ab 100.0%)"></div>
<div style="position:absolute;left:0;top:288px;width:1045px;height:7px;background:linear-gradient(90deg,#2e615c 0.0%,#386961 4.5%,#437367 9.1%,#4d7b6c 13.6%,#558270 18.2%,#5c8974 22.7%,#628f79 27.3%,#67957d 31.8%,#6c9b82 36.4%,#70a087 40.9%,#75a58b 45.5%,#79aa90 50.0%,#7eb094 54.5%,#84b699 59.1%,#8abc9d 63.6%,#90c2a0 68.2%,#97c7a3 72.7%,#9ccda5 77.3%,#a2d2a7 81.8%,#a6d7a8 86.4%,#a9daa9 90.9%,#acdda9 95.5%,#ade1aa 100.0%)"></div>
<div style="position:absolute;left:0;top:294px;width:1045px;height:7px;background:linear-gradient(90deg,#2d615c 0.0%,#376961 4.5%,#427267 9.1%,#4c7a6b 13.6%,#548270 18.2%,#5b8874 22.7%,#618f78 27.3%,#66947d 31.8%,#6b9a81 36.4%,#6f9f86 40.9%,#73a48a 45.5%,#78aa8f 50.0%,#7daf93 54.5%,#82b598 59.1%,#89bb9c 63.6%,#8fc19f 68.2%,#95c7a2 72.7%,#9bcca4 77.3%,#a0d2a6 81.8%,#a5d6a7 86.4%,#a8daa8 90.9%,#aadda8 95.5%,#ace1a9 100.0%)"></div>
<div style="position:absolute;left:0;top:300px;width:1045px;height:7px;background:linear-gradient(90deg,#2d605c 0.0%,#366861 4.5%,#417166 9.1%,#4b7a6b 13.6%,#53816f 18.2%,#5a8873 22.7%,#608e78 27.3%,#65947c 31.8%,#699981 36.4%,#6d9f85 40.9%,#72a48a 45.5%,#76a98e 50.0%,#7baf92 54.5%,#81b597 59.1%,#87ba9b 63.6%,#8dc09e 68.2%,#94c6a1 72.7%,#99cca3 77.3%,#9fd1a5 81.8%,#a3d5a6 86.4%,#a7d9a7 90.9%,#a9dca8 95.5%,#abe0a9 100.0%)"></div>
<div style="position:absolute;left:0;top:306px;width:1045px;height:7px;background:linear-gradient(90deg,#2c5f5c 0.0%,#356761 4.5%,#407166 9.1%,#4a796b 13.6%,#52806f 18.2%,#598773 22.7%,#5e8d77 27.3%,#64937b 31.8%,#689980 36.4%,#6c9e84 40.9%,#70a389 45.5%,#74a98d 50.0%,#7aae91 54.5%,#7fb496 59.1%,#85ba9a 63.6%,#8cc09d 68.2%,#92c6a0 72.7%,#98cba3 77.3%,#9dd0a4 81.8%,#a2d5a6 86.4%,#a5d8a6 90.9%,#a8dca7 95.5%,#a9e0a8 100.0%)"></div>
<div style="position:absolute;left:0;top:312px;width:1045px;height:7px;background:linear-gradient(90deg,#2b5f5c 0.0%,#346760 4.5%,#3f7066 9.1%,#49786b 13.6%,#51806f 18.2%,#578673 22.7%,#5d8d77 27.3%,#62927b 31.8%,#67987f 36.4%,#6a9d83 40.9%,#6ea288 45.5%,#73a88c 50.0%,#78ae90 54.5%,#7eb395 59.1%,#84b999 63.6%,#8abf9c 68.2%,#91c59f 72.7%,#96caa2 77.3%,#9cd0a3 81.8%,#a1d4a5 86.4%,#a4d8a6 90.9%,#a6dba6 95.5%,#a8dfa7 100.0%)"></div>
<div style="position:absolute;left:0;top:318px;width:1045px;height:7px;background:linear-gradient(90deg,#2a5e5c 0.0%,#346660 4.5%,#3e6f66 9.1%,#47786a 13.6%,#507f6e 18.2%,#568672 22.7%,#5c8c76 27.3%,#61927a 31.8%,#65977e 36.4%,#699d82 40.9%,#6da287 45.5%,#71a78b 50.0%,#76ad8f 54.5%,#7cb394 59.1%,#82b998 63.6%,#89bf9b 68.2%,#8fc49e 72.7%,#95caa1 77.3%,#9acfa3 81.8%,#9fd3a4 86.4%,#a3d7a5 90.9%,#a5daa6 95.5%,#a7dea7 100.0%)"></div>
<div style="position:absolute;left:0;top:324px;width:1045px;height:7px;background:linear-gradient(90deg,#295d5b 0.0%,#336660 4.5%,#3d6f65 9.1%,#46776a 13.6%,#4f7e6e 18.2%,#558572 22.7%,#5b8b75 27.3%,#609179 31.8%,#64967e 36.4%,#689c82 40.9%,#6ba186 45.5%,#6fa78a 50.0%,#75ac8e 54.5%,#7ab293 59.1%,#81b897 63.6%,#87be9b 68.2%,#8dc49e 72.7%,#93c9a0 77.3%,#99cea2 81.8%,#9ed3a3 86.4%,#a1d6a4 90.9%,#a4daa5 95.5%,#a5dea6 100.0%)"></div>
<div style="position:absolute;left:0;top:330px;width:1045px;height:7px;background:linear-gradient(90deg,#285d5b 0.0%,#326560 4.5%,#3c6e65 9.1%,#45766a 13.6%,#4d7e6e 18.2%,#548471 22.7%,#5a8a75 27.3%,#5f9079 31.8%,#63967d 36.4%,#669b81 40.9%,#6aa085 45.5%,#6ea689 50.0%,#73ac8d 54.5%,#79b192 59.1%,#7fb796 63.6%,#86bd9a 68.2%,#8cc39d 72.7%,#92c89f 77.3%,#97cda1 81.8%,#9cd2a3 86.4%,#a0d6a4 90.9%,#a2d9a4 95.5%,#a4dda5 100.0%)"></div>
<div style="position:absolute;left:0;top:336px;width:1045px;height:7px;background:linear-gradient(90deg,#285c5b 0.0%,#316460 4.5%,#3b6d65 9.1%,#447669 13.6%,#4c7d6d 18.2%,#538471 22.7%,#598a74 27.3%,#5d9078 31.8%,#61957c 36.4%,#659a80 40.9%,#68a084 45.5%,#6ca588 50.0%,#71ab8d 54.5%,#77b191 59.1%,#7db795 63.6%,#84bd99 68.2%,#8ac29c 72.7%,#90c89e 77.3%,#96cda0 81.8%,#9bd1a2 86.4%,#9fd5a3 90.9%,#a1d9a4 95.5%,#a3dda5 100.0%)"></div>
<div style="position:absolute;left:0;top:342px;width:1045px;height:7px;background:linear-gradient(90deg,#275b5b 0.0%,#30645f 4.5%,#3a6d64 9.1%,#437569 13.6%,#4b7c6d 18.2%,#528370 22.7%,#588974 27.3%,#5c8f78 31.8%,#60947b 36.4%,#639a7f 40.9%,#679f83 45.5%,#6ba587 50.0%,#70aa8c 54.5%,#76b090 59.1%,#7cb694 63.6%,#82bc98 68.2%,#89c29b 72.7%,#8fc79e 77.3%,#94cca0 81.8%,#99d1a1 86.4%,#9dd4a2 90.9%,#a0d8a3 95.5%,#a1dca4 100.0%)"></div>
<div style="position:absolute;left:0;top:348px;width:1045px;height:7px;background:linear-gradient(90deg,#265b5b 0.0%,#2f635f 4.5%,#396c64 9.1%,#427469 13.6%,#4a7c6c 18.2%,#518270 22.7%,#578873 27.3%,#5b8e77 31.8%,#5f947b 36.4%,#62997e 40.9%,#659e82 45.5%,#69a486 50.0%,#6eaa8b 54.5%,#74b08f 59.1%,#7ab593 63.6%,#81bb97 68.2%,#87c19a 72.7%,#8dc69d 77.3%,#93cb9f 81.8%,#98d0a0 86.4%,#9cd4a2 90.9%,#9ed8a3 95.5%,#a0dca4 100.0%)"></div>
<div style="position:absolute;left:0;top:354px;width:1045px;height:7px;background:linear-gradient(90deg,#255a5a 0.0%,#2f625f 4.5%,#386b64 9.1%,#417468 13.6%,#497b6c 18.2%,#50816f 22.7%,#558873 27.3%,#5a8d76 31.8%,#5d937a 36.4%,#60987e 40.9%,#639e81 45.5%,#67a385 50.0%,#6ca98a 54.5%,#72af8e 59.1%,#79b592 63.6%,#7fbb96 68.2%,#86c099 72.7%,#8cc69c 77.3%,#91cb9e 81.8%,#96cfa0 86.4%,#9ad3a1 90.9%,#9dd7a2 95.5%,#9edba3 100.0%)"></div>
<div style="position:absolute;left:0;top:360px;width:1045px;height:7px;background:linear-gradient(90deg,#24595a 0.0%,#2e625f 4.5%,#376b64 9.1%,#407368 13.6%,#487a6c 18.2%,#4f816f 22.7%,#548772 27.3%,#598d76 31.8%,#5c9279 36.4%,#5f987d 40.9%,#629d81 45.5%,#66a385 50.0%,#6ba889 54.5%,#71ae8d 59.1%,#77b492 63.6%,#7eba95 68.2%,#84c099 72.7%,#8ac59b 77.3%,#90ca9d 81.8%,#95ce9f 86.4%,#99d3a0 90.9%,#9bd7a2 95.5%,#9ddba3 100.0%)"></div>
<div style="position:absolute;left:0;top:366px;width:1045px;height:7px;background:linear-gradient(90deg,#23595a 0.0%,#2d615e 4.5%,#366a63 9.1%,#3f7268 13.6%,#47796b 18.2%,#4e806e 22.7%,#538672 27.3%,#588c75 31.8%,#5b9279 36.4%,#5e977c 40.9%,#609c80 45.5%,#64a284 50.0%,#69a888 54.5%,#6fae8d 59.1%,#76b491 63.6%,#7cb995 68.2%,#82bf98 72.7%,#89c49a 77.3%,#8ec99d 81.8%,#93ce9e 86.4%,#97d2a0 90.9%,#9ad6a1 95.5%,#9bdaa2 100.0%)"></div>
<div style="position:absolute;left:0;top:372px;width:1045px;height:7px;background:linear-gradient(90deg,#23585a 0.0%,#2c605e 4.5%,#366963 9.1%,#3e7167 13.6%,#46796b 18.2%,#4d7f6e 22.7%,#528571 27.3%,#568b75 31.8%,#5a9178 36.4%,#5c967b 40.9%,#5f9c7f 45.5%,#63a183 50.0%,#67a787 54.5%,#6ead8c 59.1%,#74b390 63.6%,#7ab994 68.2%,#81be97 72.7%,#87c49a 77.3%,#8dc99c 81.8%,#92cd9e 86.4%,#96d19f 90.9%,#98d5a1 95.5%,#9adaa1 100.0%)"></div>
<div style="position:absolute;left:0;top:378px;width:1045px;height:7px;background:linear-gradient(90deg,#225759 0.0%,#2b605e 4.5%,#356963 9.1%,#3e7167 13.6%,#45786a 18.2%,#4c7e6d 22.7%,#518571 27.3%,#558b74 31.8%,#589077 36.4%,#5b967b 40.9%,#5d9b7e 45.5%,#61a182 50.0%,#66a786 54.5%,#6cac8b 59.1%,#72b28f 63.6%,#79b893 68.2%,#7fbe96 72.7%,#85c399 77.3%,#8bc89b 81.8%,#90cc9d 86.4%,#94d19f 90.9%,#97d5a0 95.5%,#98d9a1 100.0%)"></div>
<div style="position:absolute;left:0;top:384px;width:1045px;height:7px;background:linear-gradient(90deg,#215759 0.0%,#2b5f5d 4.5%,#346862 9.1%,#3d7067 13.6%,#44776a 18.2%,#4b7e6d 22.7%,#508470 27.3%,#548a73 31.8%,#579077 36.4%,#5a957a 40.9%,#5c9b7d 45.5%,#5fa081 50.0%,#64a686 54.5%,#6aac8a 59.1%,#71b28e 63.6%,#77b792 68.2%,#7ebd95 72.7%,#84c298 77.3%,#89c79b 81.8%,#8fcc9c 86.4%,#93d09e 90.9%,#95d49f 95.5%,#97d9a0 100.0%)"></div>
<div style="position:absolute;left:0;top:390px;width:1045px;height:7px;background:linear-gradient(90deg,#205659 0.0%,#2a5e5d 4.5%,#336762 9.1%,#3c6f66 13.6%,#437669 18.2%,#4a7d6c 22.7%,#4f8370 27.3%,#538973 31.8%,#568f76 36.4%,#589479 40.9%,#5a9a7d 45.5%,#5e9f80 50.0%,#63a585 54.5%,#69ab89 59.1%,#6fb18e 63.6%,#76b792 68.2%,#7cbc95 72.7%,#82c297 77.3%,#88c79a 81.8%,#8dcb9c 86.4%,#91d09e 90.9%,#94d49f 95.5%,#95d8a0 100.0%)"></div>
<div style="position:absolute;left:0;top:396px;width:1045px;height:7px;background:linear-gradient(90deg,#1f5559 0.0%,#295e5d 4.5%,#326762 9.1%,#3b6e66 13.6%,#427669 18.2%,#497c6c 22.7%,#4e826f 27.3%,#528872 31.8%,#558e76 36.4%,#579479 40.9%,#59997c 45.5%,#5c9f80 50.0%,#61a584 54.5%,#67ab89 59.1%,#6eb08d 63.6%,#74b691 68.2%,#7abc94 72.7%,#80c197 77.3%,#86c699 81.8%,#8ccb9b 86.4%,#90cf9d 90.9%,#92d39e 95.5%,#93d89f 100.0%)"></div>
<div style="position:absolute;left:0;top:402px;width:1045px;height:7px;background:linear-gradient(90deg,#1f5558 0.0%,#285d5c 4.5%,#316661 9.1%,#3a6e65 13.6%,#427568 18.2%,#487b6b 22.7%,#4d826f 27.3%,#518872 31.8%,#548d75 36.4%,#569378 40.9%,#58997b 45.5%,#5b9e7f 50.0%,#60a483 54.5%,#66aa88 59.1%,#6cb08c 63.6%,#73b590 68.2%,#79bb93 72.7%,#7fc096 77.3%,#85c598 81.8%,#8aca9b 86.4%,#8ece9d 90.9%,#91d39e 95.5%,#92d79f 100.0%)"></div>
<div style="position:absolute;left:0;top:408px;width:1045px;height:7px;background:linear-gradient(90deg,#1e5458 0.0%,#275c5c 4.5%,#306561 9.1%,#396d65 13.6%,#417468 18.2%,#477b6b 22.7%,#4c816e 27.3%,#508771 31.8%,#528d74 36.4%,#549278 40.9%,#56987b 45.5%,#599e7e 50.0%,#5ea383 54.5%,#64a987 59.1%,#6baf8c 63.6%,#71b58f 68.2%,#77ba93 72.7%,#7dc095 77.3%,#83c498 81.8%,#88c99a 86.4%,#8dce9c 90.9%,#8fd29d 95.5%,#90d79e 100.0%)"></div>
<div style="position:absolute;left:0;top:414px;width:1045px;height:7px;background:linear-gradient(90deg,#1d5358 0.0%,#275c5b 4.5%,#306460 9.1%,#386c64 13.6%,#407367 18.2%,#467a6a 22.7%,#4b806d 27.3%,#4f8671 31.8%,#518c74 36.4%,#539277 40.9%,#55977a 45.5%,#589d7e 50.0%,#5da382 54.5%,#63a987 59.1%,#69af8b 63.6%,#6fb48f 68.2%,#75ba92 72.7%,#7bbf95 77.3%,#81c497 81.8%,#87c999 86.4%,#8bcd9c 90.9%,#8ed29d 95.5%,#8ed69e 100.0%)"></div>
<div style="position:absolute;left:0;top:420px;width:1045px;height:7px;background:linear-gradient(90deg,#1c5258 0.0%,#265b5b 4.5%,#2f6460 9.1%,#376b64 13.6%,#3f7267 18.2%,#45796a 22.7%,#4a7f6d 27.3%,#4e8570 31.8%,#508b73 36.4%,#529176 40.9%,#549779 45.5%,#569c7d 50.0%,#5ba281 54.5%,#61a886 59.1%,#68ae8a 63.6%,#6eb48e 68.2%,#74b991 72.7%,#7abe94 77.3%,#7fc396 81.8%,#85c899 86.4%,#8acd9b 90.9%,#8cd19c 95.5%,#8dd69d 100.0%)"></div>
<div style="position:absolute;left:0;top:426px;width:1045px;height:7px;background:linear-gradient(90deg,#1b5257 0.0%,#255a5b 4.5%,#2e635f 9.1%,#366b63 13.6%,#3e7266 18.2%,#447869 22.7%,#497e6c 27.3%,#4d8570 31.8%,#4f8b73 36.4%,#519076 40.9%,#529679 45.5%,#559c7c 50.0%,#5aa281 54.5%,#60a885 59.1%,#66ad8a 63.6%,#6cb38d 68.2%,#72b890 72.7%,#78bd93 77.3%,#7ec296 81.8%,#83c798 86.4%,#88cc9b 90.9%,#8ad19c 95.5%,#8bd59c 100.0%)"></div>
<div style="position:absolute;left:0;top:432px;width:1045px;height:7px;background:linear-gradient(90deg,#1a5157 0.0%,#24595a 4.5%,#2d625f 9.1%,#356a63 13.6%,#3d7166 18.2%,#437769 22.7%,#487e6c 27.3%,#4c846f 31.8%,#4e8a72 36.4%,#509075 40.9%,#519578 45.5%,#549b7c 50.0%,#59a180 54.5%,#5fa785 59.1%,#65ad89 63.6%,#6bb28d 68.2%,#71b890 72.7%,#76bd93 77.3%,#7cc295 81.8%,#81c798 86.4%,#86cc9a 90.9%,#89d09b 95.5%,#89d59c 100.0%)"></div>
<div style="position:absolute;left:0;top:438px;width:1045px;height:7px;background:linear-gradient(90deg,#195057 0.0%,#23595a 4.5%,#2c615e 9.1%,#356962 13.6%,#3c7065 18.2%,#427668 22.7%,#477d6b 27.3%,#4b836f 31.8%,#4d8972 36.4%,#4f8f75 40.9%,#509578 45.5%,#529a7b 50.0%,#57a080 54.5%,#5da684 59.1%,#63ac88 63.6%,#69b28c 68.2%,#6fb78f 72.7%,#74bc92 77.3%,#7ac194 81.8%,#80c697 86.4%,#85cb9a 90.9%,#87d09b 95.5%,#87d49b 100.0%)"></div>
<div style="position:absolute;left:0;top:444px;width:1045px;height:7px;background:linear-gradient(90deg,#194f57 0.0%,#235859 4.5%,#2c605e 9.1%,#346862 13.6%,#3b6f65 18.2%,#417668 22.7%,#467c6b 27.3%,#4a836e 31.8%,#4c8972 36.4%,#4e8f75 40.9%,#4f9477 45.5%,#519a7a 50.0%,#56a07f 54.5%,#5ca684 59.1%,#62ac88 63.6%,#68b18b 68.2%,#6db68e 72.7%,#73bb91 77.3%,#78c094 81.8%,#7ec596 86.4%,#83cb99 90.9%,#85cf9a 95.5%,#85d49b 100.0%)"></div>
<div style="position:absolute;left:0;top:450px;width:1045px;height:7px;background:linear-gradient(90deg,#184e56 0.0%,#225759 4.5%,#2b605d 9.1%,#336761 13.6%,#3a6e64 18.2%,#407567 22.7%,#457b6a 27.3%,#49826e 31.8%,#4b8871 36.4%,#4d8e74 40.9%,#4e9477 45.5%,#50997a 50.0%,#559f7f 54.5%,#5ba583 59.1%,#61ab87 63.6%,#66b08b 68.2%,#6cb68e 72.7%,#71bb91 77.3%,#77c093 81.8%,#7cc596 86.4%,#81ca99 90.9%,#83cf9a 95.5%,#84d39a 100.0%)"></div>
<div style="position:absolute;left:0;top:456px;width:1045px;height:7px;background:linear-gradient(90deg,#174e56 0.0%,#215658 4.5%,#2a5f5c 9.1%,#326660 13.6%,#396d63 18.2%,#3f7467 22.7%,#447b6a 27.3%,#48816d 31.8%,#4a8771 36.4%,#4c8d74 40.9%,#4d9376 45.5%,#4e997a 50.0%,#549f7e 54.5%,#59a583 59.1%,#5faa87 63.6%,#65b08a 68.2%,#6ab58d 72.7%,#6fba90 77.3%,#75bf92 81.8%,#7ac495 86.4%,#80c998 90.9%,#81ce99 95.5%,#82d299 100.0%)"></div>
<div style="position:absolute;left:0;top:462px;width:1045px;height:7px;background:linear-gradient(90deg,#164d56 0.0%,#205558 4.5%,#295e5b 9.1%,#316560 13.6%,#396c63 18.2%,#3f7366 22.7%,#437a69 27.3%,#47806d 31.8%,#498770 36.4%,#4b8d73 40.9%,#4c9276 45.5%,#4d9879 50.0%,#529e7e 54.5%,#58a482 59.1%,#5eaa86 63.6%,#63af8a 68.2%,#68b48d 72.7%,#6db98f 77.3%,#73be92 81.8%,#78c495 86.4%,#7ec998 90.9%,#80ce99 95.5%,#80d299 100.0%)"></div>
<div style="position:absolute;left:0;top:468px;width:1045px;height:7px;background:linear-gradient(90deg,#154c56 0.0%,#1f5458 4.5%,#295d5b 9.1%,#30645f 13.6%,#386b62 18.2%,#3e7266 22.7%,#427969 27.3%,#46806d 31.8%,#488670 36.4%,#4a8c73 40.9%,#4b9276 45.5%,#4c9879 50.0%,#519e7d 54.5%,#57a482 59.1%,#5da986 63.6%,#62af89 68.2%,#67b48c 72.7%,#6cb98f 77.3%,#71be91 81.8%,#77c394 86.4%,#7cc897 90.9%,#7dcd98 95.5%,#7ed198 100.0%)"></div>
<div style="position:absolute;left:0;top:474px;width:1045px;height:7px;background:linear-gradient(90deg,#144b56 0.0%,#1e5457 4.5%,#285c5a 9.1%,#30635e 13.6%,#376a62 18.2%,#3d7165 22.7%,#417869 27.3%,#457f6c 31.8%,#478570 36.4%,#498b73 40.9%,#4a9176 45.5%,#4b9778 50.0%,#509d7d 54.5%,#56a382 59.1%,#5ba985 63.6%,#60ae89 68.2%,#65b38b 72.7%,#6ab88e 77.3%,#6fbd91 81.8%,#75c293 86.4%,#7ac896 90.9%,#7bcc97 95.5%,#7cd197 100.0%)"></div>
<div style="position:absolute;left:0;top:480px;width:1045px;height:7px;background:linear-gradient(90deg,#134a56 0.0%,#1d5357 4.5%,#275b59 9.1%,#2f625e 13.6%,#366a61 18.2%,#3c7065 22.7%,#407768 27.3%,#447e6c 31.8%,#46856f 36.4%,#488b73 40.9%,#499175 45.5%,#4a9678 50.0%,#4f9d7d 54.5%,#55a281 59.1%,#5aa885 63.6%,#5fad88 68.2%,#63b28b 72.7%,#68b78d 77.3%,#6dbc90 81.8%,#73c293 86.4%,#78c796 90.9%,#79cc97 95.5%,#79d097 100.0%)"></div>
<div style="position:absolute;left:0;top:486px;width:1045px;height:7px;background:linear-gradient(90deg,#124a56 0.0%,#1c5257 4.5%,#265a59 9.1%,#2e615d 13.6%,#356961 18.2%,#3b7064 22.7%,#407768 27.3%,#437d6b 31.8%,#46846f 36.4%,#478a72 40.9%,#489075 45.5%,#4a9678 50.0%,#4f9c7d 54.5%,#54a281 59.1%,#59a784 63.6%,#5dad88 68.2%,#62b28a 72.7%,#66b78d 77.3%,#6bbc8f 81.8%,#71c192 86.4%,#76c695 90.9%,#77cb96 95.5%,#77d096 100.0%)"></div>
<div style="position:absolute;left:0;top:492px;width:1045px;height:7px;background:linear-gradient(90deg,#114956 0.0%,#1b5157 4.5%,#255959 9.1%,#2d615d 13.6%,#346860 18.2%,#3a6f63 22.7%,#3f7667 27.3%,#427d6b 31.8%,#45836f 36.4%,#468a72 40.9%,#489075 45.5%,#499678 50.0%,#4e9c7d 54.5%,#53a181 59.1%,#57a784 63.6%,#5cac87 68.2%,#60b18a 72.7%,#64b68c 77.3%,#69bb8e 81.8%,#6ec091 86.4%,#73c694 90.9%,#75cb95 95.5%,#75cf95 100.0%)"></div>
<div style="position:absolute;left:0;top:498px;width:1045px;height:7px;background:linear-gradient(90deg,#104855 0.0%,#1a5057 4.5%,#245859 9.1%,#2c605c 13.6%,#336760 18.2%,#396e63 22.7%,#3e7567 27.3%,#417c6b 31.8%,#44836e 36.4%,#468972 40.9%,#478f75 45.5%,#499578 50.0%,#4d9b7c 54.5%,#52a180 59.1%,#56a684 63.6%,#5aab86 68.2%,#5fb189 72.7%,#63b58b 77.3%,#67ba8e 81.8%,#6cc091 86.4%,#71c593 90.9%,#72ca94 95.5%,#73cf94 100.0%)"></div>
<div style="position:absolute;left:0;top:504px;width:1045px;height:7px;background:linear-gradient(90deg,#0e4755 0.0%,#194f57 4.5%,#235758 9.1%,#2b5f5c 13.6%,#32665f 18.2%,#386d63 22.7%,#3d7466 27.3%,#407b6a 31.8%,#43826e 36.4%,#458972 40.9%,#478f75 45.5%,#489578 50.0%,#4c9b7c 54.5%,#51a080 59.1%,#55a683 63.6%,#59ab86 68.2%,#5db088 72.7%,#61b58b 77.3%,#65ba8d 81.8%,#6abf90 86.4%,#6fc593 90.9%,#70c993 95.5%,#71ce94 100.0%)"></div>
<div style="position:absolute;left:0;top:510px;width:1045px;height:7px;background:linear-gradient(90deg,#0d4656 0.0%,#174e57 4.5%,#225658 9.1%,#2a5e5b 13.6%,#31655e 18.2%,#376c62 22.7%,#3c7366 27.3%,#3f7a6a 31.8%,#42816e 36.4%,#448872 40.9%,#468e75 45.5%,#489479 50.0%,#4c9a7c 54.5%,#50a080 59.1%,#54a583 63.6%,#58aa86 68.2%,#5baf88 72.7%,#5fb48a 77.3%,#63b98c 81.8%,#68be8f 86.4%,#6cc492 90.9%,#6dc992 95.5%,#6ecd93 100.0%)"></div>
<div style="position:absolute;left:0;top:516px;width:1045px;height:7px;background:linear-gradient(90deg,#0c4556 0.0%,#164d57 4.5%,#205558 9.1%,#295d5b 13.6%,#30645e 18.2%,#366b62 22.7%,#3b7266 27.3%,#3f7a6a 31.8%,#41816e 36.4%,#448772 40.9%,#468e75 45.5%,#489479 50.0%,#4b9a7c 54.5%,#4f9f80 59.1%,#53a583 63.6%,#56aa85 68.2%,#5aaf87 72.7%,#5db389 77.3%,#61b88c 81.8%,#66be8e 86.4%,#6ac391 90.9%,#6bc892 95.5%,#6ccd92 100.0%)"></div>
<div style="position:absolute;left:0;top:522px;width:1045px;height:7px;background:linear-gradient(90deg,#0b4456 0.0%,#154c57 4.5%,#1f5458 9.1%,#285c5b 13.6%,#2f635e 18.2%,#356a61 22.7%,#3a7265 27.3%,#3e7969 31.8%,#41806e 36.4%,#438772 40.9%,#458d75 45.5%,#489479 50.0%,#4b997c 54.5%,#4e9f7f 59.1%,#51a482 63.6%,#55a985 68.2%,#58ae87 72.7%,#5bb389 77.3%,#5fb88b 81.8%,#63bd8e 86.4%,#67c390 90.9%,#68c891 95.5%,#6acc91 100.0%)"></div>
<div style="position:absolute;left:0;top:528px;width:1045px;height:7px;background:linear-gradient(90deg,#0a4456 0.0%,#144b57 4.5%,#1e5358 9.1%,#275b5a 13.6%,#2e625d 18.2%,#346961 22.7%,#397165 27.3%,#3d7869 31.8%,#407f6d 36.4%,#428671 40.9%,#458d75 45.5%,#479379 50.0%,#4a997c 54.5%,#4d9e7f 59.1%,#50a382 63.6%,#53a884 68.2%,#56ad86 72.7%,#5ab288 77.3%,#5db78a 81.8%,#61bc8d 86.4%,#65c28f 90.9%,#66c790 95.5%,#68cc90 100.0%)"></div>
<div style="position:absolute;left:0;top:534px;width:1045px;height:7px;background:linear-gradient(90deg,#094356 0.0%,#124a58 4.5%,#1d5258 9.1%,#265a5a 13.6%,#2e615d 18.2%,#336960 22.7%,#387064 27.3%,#3c7769 31.8%,#3f7f6d 36.4%,#428671 40.9%,#448c75 45.5%,#479379 50.0%,#4a987c 54.5%,#4c9e7f 59.1%,#4fa381 63.6%,#52a884 68.2%,#55ad86 72.7%,#58b188 77.3%,#5bb68a 81.8%,#5fbc8c 86.4%,#62c18e 90.9%,#63c68f 95.5%,#65cb90 100.0%)"></div>
<div style="position:absolute;left:0;top:540px;width:1045px;height:7px;background:linear-gradient(90deg,#074256 0.0%,#114958 4.5%,#1b5158 9.1%,#25595a 13.6%,#2d605c 18.2%,#326860 22.7%,#376f64 27.3%,#3b7769 31.8%,#3e7e6d 36.4%,#418571 40.9%,#448c76 45.5%,#47927a 50.0%,#49987c 54.5%,#4b9d7f 59.1%,#4ea281 63.6%,#51a783 68.2%,#53ac85 72.7%,#56b187 77.3%,#59b689 81.8%,#5dbb8b 86.4%,#60c08d 90.9%,#61c68e 95.5%,#63ca8f 100.0%)"></div>
<div style="position:absolute;left:0;top:546px;width:1045px;height:7px;background:linear-gradient(90deg,#064156 0.0%,#104958 4.5%,#1a5058 9.1%,#245859 13.6%,#2c5f5c 18.2%,#316760 22.7%,#366e64 27.3%,#3a7668 31.8%,#3d7d6d 36.4%,#408471 40.9%,#448b76 45.5%,#46927a 50.0%,#48987c 54.5%,#4a9d7f 59.1%,#4da281 63.6%,#4fa783 68.2%,#52ab85 72.7%,#54b086 77.3%,#57b588 81.8%,#5aba8a 86.4%,#5dc08c 90.9%,#5ec58d 95.5%,#61ca8e 100.0%)"></div>
<div style="position:absolute;left:0;top:552px;width:1045px;height:7px;background:linear-gradient(90deg,#054056 0.0%,#0e4858 4.5%,#194f58 9.1%,#235759 13.6%,#2b5e5b 18.2%,#30665f 22.7%,#356e64 27.3%,#397568 31.8%,#3d7d6d 36.4%,#408471 40.9%,#438b76 45.5%,#46927a 50.0%,#48977c 54.5%,#4a9c7e 59.1%,#4ca181 63.6%,#4ea682 68.2%,#50ab84 72.7%,#52af86 77.3%,#55b487 81.8%,#58ba89 86.4%,#5bbf8b 90.9%,#5cc48c 95.5%,#5fc98d 100.0%)"></div>
<div style="position:absolute;left:0;top:558px;width:1045px;height:7px;background:linear-gradient(90deg,#043f56 0.0%,#0d4758 4.5%,#184e58 9.1%,#215659 13.6%,#295d5b 18.2%,#2f655f 22.7%,#346d63 27.3%,#387568 31.8%,#3c7c6c 36.4%,#3f8371 40.9%,#438a76 45.5%,#46917a 50.0%,#47977c 54.5%,#499c7e 59.1%,#4aa180 63.6%,#4ca582 68.2%,#4faa84 72.7%,#51af85 77.3%,#53b487 81.8%,#56b989 86.4%,#58be8a 90.9%,#5ac48b 95.5%,#5dc88c 100.0%)"></div>
<div style="position:absolute;left:0;top:564px;width:1045px;height:7px;background:linear-gradient(90deg,#033e56 0.0%,#0c4658 4.5%,#174d58 9.1%,#205559 13.6%,#285c5b 18.2%,#2e645f 22.7%,#336c63 27.3%,#377468 31.8%,#3b7b6c 36.4%,#3e8371 40.9%,#428a76 45.5%,#45917a 50.0%,#46967c 54.5%,#489b7e 59.1%,#49a080 63.6%,#4ba582 68.2%,#4da983 72.7%,#4fae85 77.3%,#51b386 81.8%,#54b888 86.4%,#56be8a 90.9%,#58c38a 95.5%,#5bc88c 100.0%)"></div>
<div style="position:absolute;left:0;top:570px;width:1045px;height:7px;background:linear-gradient(90deg,#023e55 0.0%,#0b4558 4.5%,#154d58 9.1%,#1f5459 13.6%,#275b5b 18.2%,#2d635e 22.7%,#326b63 27.3%,#377367 31.8%,#3a7b6c 36.4%,#3e8271 40.9%,#418976 45.5%,#45907a 50.0%,#46957c 54.5%,#479a7e 59.1%,#489f80 63.6%,#4aa481 68.2%,#4ba983 72.7%,#4dad84 77.3%,#4fb285 81.8%,#52b887 86.4%,#54bd89 90.9%,#56c28a 95.5%,#58c78b 100.0%)"></div>
<div style="position:absolute;left:0;top:576px;width:1045px;height:7px;background:linear-gradient(90deg,#013d55 0.0%,#0a4457 4.5%,#144c58 9.1%,#1e5358 13.6%,#265b5a 18.2%,#2c635e 22.7%,#316a62 27.3%,#367267 31.8%,#397a6c 36.4%,#3d8171 40.9%,#418976 45.5%,#448f7a 50.0%,#45957c 54.5%,#469a7e 59.1%,#479f7f 63.6%,#48a381 68.2%,#4aa882 72.7%,#4bad83 77.3%,#4db285 81.8%,#50b786 86.4%,#52bc88 90.9%,#54c289 95.5%,#56c68a 100.0%)"></div>
<div style="position:absolute;left:0;top:582px;width:1045px;height:7px;background:linear-gradient(90deg,#003c55 0.0%,#094357 4.5%,#134b58 9.1%,#1d5258 13.6%,#255a5a 18.2%,#2b625e 22.7%,#306a62 27.3%,#357267 31.8%,#38796c 36.4%,#3c8171 40.9%,#408876 45.5%,#438f7a 50.0%,#44947c 54.5%,#45997d 59.1%,#469e7f 63.6%,#47a380 68.2%,#48a882 72.7%,#4aac83 77.3%,#4bb184 81.8%,#4eb686 86.4%,#50bc87 90.9%,#52c188 95.5%,#54c689 100.0%)"></div>
<div style="position:absolute;left:0;top:588px;width:1045px;height:7px;background:linear-gradient(90deg,#003b55 0.0%,#084257 4.5%,#124a58 9.1%,#1c5158 13.6%,#24595a 18.2%,#2a615e 22.7%,#2f6962 27.3%,#347167 31.8%,#38796b 36.4%,#3b8070 40.9%,#3f8775 45.5%,#428e7a 50.0%,#43947c 54.5%,#44997d 59.1%,#459e7f 63.6%,#46a280 68.2%,#47a781 72.7%,#48ac82 77.3%,#49b083 81.8%,#4cb685 86.4%,#4ebb86 90.9%,#50c087 95.5%,#52c589 100.0%)"></div>
<div style="position:absolute;left:0;top:594px;width:1045px;height:7px;background:linear-gradient(90deg,#003a55 0.0%,#074257 4.5%,#114957 9.1%,#1a5058 13.6%,#23585a 18.2%,#29605d 22.7%,#2e6862 27.3%,#337066 31.8%,#37786b 36.4%,#3b7f70 40.9%,#3e8775 45.5%,#428e79 50.0%,#42937c 54.5%,#43987d 59.1%,#439d7e 63.6%,#44a27f 68.2%,#45a681 72.7%,#46ab82 77.3%,#48b083 81.8%,#4ab584 86.4%,#4cba86 90.9%,#4ec087 95.5%,#51c488 100.0%)"></div>
<div style="position:absolute;left:0;top:600px;width:1045px;height:7px;background:linear-gradient(90deg,#003955 0.0%,#054157 4.5%,#104857 9.1%,#195058 13.6%,#21575a 18.2%,#285f5d 22.7%,#2d6761 27.3%,#326f66 31.8%,#36776b 36.4%,#3a7f70 40.9%,#3e8675 45.5%,#418d79 50.0%,#41927b 54.5%,#42977d 59.1%,#429c7e 63.6%,#43a17f 68.2%,#44a680 72.7%,#45aa81 77.3%,#46af82 81.8%,#48b484 86.4%,#4aba85 90.9%,#4cbf86 95.5%,#4fc487 100.0%)"></div>
<div style="position:absolute;left:0;top:606px;width:1045px;height:7px;background:linear-gradient(90deg,#003954 0.0%,#044056 4.5%,#0e4757 9.1%,#184f58 13.6%,#20565a 18.2%,#275e5d 22.7%,#2c6761 27.3%,#316f66 31.8%,#35766b 36.4%,#397e70 40.9%,#3d8675 45.5%,#408c79 50.0%,#40927b 54.5%,#41977c 59.1%,#419c7d 63.6%,#42a07f 68.2%,#42a580 72.7%,#43aa81 77.3%,#44ae82 81.8%,#46b483 86.4%,#48b984 90.9%,#4abe85 95.5%,#4dc387 100.0%)"></div>
</div>


<div class="wm" style="left:-16px;top:46px;font-size:78px;letter-spacing:1px;line-height:70px;transform:rotate(-14deg);transform-origin:0 0;-webkit-text-stroke:5px rgba(255,255,255,.10);filter:blur(3.5px)">MOSTLY<br>HOSTLY</div>
<div class="wm" style="left:792px;top:190px;font-size:70px;letter-spacing:-3px;line-height:72px;transform:rotate(28deg);transform-origin:0 0;color:rgba(255,255,255,.07);-webkit-text-stroke:4px rgba(255,255,255,.07);filter:blur(3px)">MOSTLY<br>HOSTLY</div>
<div class="wm" style="left:240px;top:500px;font-size:66px;transform:rotate(-4deg);transform-origin:0 0;color:rgba(255,255,255,.05);-webkit-text-stroke:3px rgba(255,255,255,.05)">&nbsp;OSTLY</div>
<svg style="position:absolute;left:235px;top:440px;filter:blur(2.5px)" width="240" height="125"><path d="M8 125 V55 L95 10 L200 55" fill="none" stroke="rgba(255,255,255,.06)" stroke-width="12"/></svg>
<div class="t" style="left:111px;top:41.48px;font-size:54px;color:#f8f3e6;text-shadow:0 2px 6px rgba(0,0,0,.15)">Investment Calculator &amp; Dashboard</div>
<div class="shadow" style="left:173px;top:116px;width:544px;height:269px"></div>
<div class="card" style="left:173px;top:116px;width:544px;height:269px">
<div class="r" style="left:0.00px;top:0.00px;width:544.00px;height:24.00px;background:#828976;"></div>
<div class="r" style="left:0.00px;top:0.00px;width:8.00px;height:269.00px;background:#828976;"></div>
<svg style="position:absolute;left:11px;top:-1px" width="16" height="17" viewBox="0 0 16 17"><path d="M0.9 15.4 V6.6 L6.1 1.2 L12.2 6.6" fill="none" stroke="#f3f0e6" stroke-width="1.1"/><path d="M0.9 15.4 H10" fill="none" stroke="#f3f0e6" stroke-width="1.1"/></svg>
<div class="t" style="left:13.60px;top:5.47px;font-size:9.6px;color:#f3f0e6;font-weight:700;font-style:normal;font-family:'Liberation Sans',sans-serif;-webkit-text-stroke:0.5px #f3f0e6;letter-spacing:0.3px">MOSTLY</div>
<div class="t" style="left:14.80px;top:14.47px;font-size:9.6px;color:#f3f0e6;font-weight:700;font-style:normal;font-family:'Liberation Sans',sans-serif;-webkit-text-stroke:0.5px #f3f0e6;letter-spacing:0.3px">HOSTLY</div>
<div class="t" style="left:-232.00px;width:600px;text-align:right;top:3.69px;font-size:17.8px;color:#f6f3ea;font-weight:400;font-style:normal;font-family:'Liberation Serif',serif;-webkit-text-stroke:0.3px #f6f3ea">CALCULATOR INPUT</div>
<div class="t" style="left:-233.00px;width:600px;text-align:right;top:26.44px;font-size:7px;color:#333;font-weight:700;font-style:italic;font-family:'Liberation Serif',serif;">Only Update LIGHT GREEN HIGHLIGHTED cells below</div>
<div class="r" style="left:18.50px;top:35.30px;width:119.00px;height:9.30px;background:#828976;"></div>
<div class="r" style="left:18.50px;top:44.60px;width:84.00px;height:9.75px;background:#f8f6ef;"></div>
<div class="r" style="left:102.50px;top:44.60px;width:35.00px;height:9.75px;background:#d9e6ca;"></div>
<div class="r" style="left:18.50px;top:54.35px;width:84.00px;height:9.75px;background:#f8f6ef;"></div>
<div class="r" style="left:102.50px;top:54.35px;width:35.00px;height:9.75px;background:#d9e6ca;"></div>
<div class="r" style="left:18.50px;top:64.10px;width:84.00px;height:9.75px;background:#f8f6ef;"></div>
<div class="r" style="left:102.50px;top:64.10px;width:35.00px;height:9.75px;background:#d9e6ca;"></div>
<div class="r" style="left:18.50px;top:73.85px;width:84.00px;height:9.75px;background:#f8f6ef;"></div>
<div class="r" style="left:102.50px;top:73.85px;width:35.00px;height:9.75px;background:#f8f6ef;"></div>
<div class="r" style="left:18.50px;top:83.60px;width:84.00px;height:9.75px;background:#f8f6ef;"></div>
<div class="r" style="left:102.50px;top:83.60px;width:35.00px;height:9.75px;background:#f8f6ef;"></div>
<div class="r" style="left:18.50px;top:44.60px;width:119.00px;height:1.00px;background:#828976;"></div>
<div class="r" style="left:18.50px;top:54.35px;width:119.00px;height:1.00px;background:#d9d9d0;"></div>
<div class="r" style="left:18.50px;top:64.10px;width:119.00px;height:1.00px;background:#d9d9d0;"></div>
<div class="r" style="left:18.50px;top:73.85px;width:119.00px;height:1.00px;background:#d9d9d0;"></div>
<div class="r" style="left:18.50px;top:83.60px;width:119.00px;height:1.00px;background:#d9d9d0;"></div>
<div class="r" style="left:18.50px;top:93.35px;width:119.00px;height:1.00px;background:#d9d9d0;"></div>
<div class="r" style="left:18.50px;top:44.60px;width:1.00px;height:48.75px;background:#d9d9d0;"></div>
<div class="r" style="left:101.50px;top:44.60px;width:1.00px;height:48.75px;background:#d9d9d0;"></div>
<div class="r" style="left:136.50px;top:44.60px;width:1.00px;height:48.75px;background:#d9d9d0;"></div>
<div class="t" style="left:20.50px;top:47.41px;font-size:7px;color:#333;font-weight:400;font-style:italic;font-family:'Liberation Serif',serif;-webkit-text-stroke:0.05px #333">Cash Invested</div>
<div class="t" style="left:-180.00px;width:600px;text-align:center;top:47.41px;font-size:7px;color:#333;font-weight:400;font-style:italic;font-family:'Liberation Serif',serif;-webkit-text-stroke:0.05px #333">$50,000</div>
<div class="t" style="left:20.50px;top:57.16px;font-size:7px;color:#333;font-weight:400;font-style:italic;font-family:'Liberation Serif',serif;-webkit-text-stroke:0.05px #333">Cap Rate</div>
<div class="t" style="left:-180.00px;width:600px;text-align:center;top:57.16px;font-size:7px;color:#333;font-weight:400;font-style:italic;font-family:'Liberation Serif',serif;-webkit-text-stroke:0.05px #333">8.0%</div>
<div class="t" style="left:20.50px;top:66.91px;font-size:7px;color:#333;font-weight:400;font-style:italic;font-family:'Liberation Serif',serif;-webkit-text-stroke:0.05px #333">Monthly Cash Flow</div>
<div class="t" style="left:-180.00px;width:600px;text-align:center;top:66.91px;font-size:7px;color:#333;font-weight:400;font-style:italic;font-family:'Liberation Serif',serif;-webkit-text-stroke:0.05px #333">$1,600</div>
<div class="t" style="left:20.50px;top:76.66px;font-size:7px;color:#333;font-weight:400;font-style:italic;font-family:'Liberation Serif',serif;-webkit-text-stroke:0.05px #333">Annual CoC Return</div>
<div class="t" style="left:20.50px;top:86.41px;font-size:7px;color:#333;font-weight:400;font-style:italic;font-family:'Liberation Serif',serif;-webkit-text-stroke:0.05px #333">ROI in Years</div>
<div class="t" style="left:-239.50px;width:600px;text-align:center;top:37.77px;font-size:6.3px;color:#f3f0e6;font-weight:400;font-style:normal;font-family:'Liberation Serif',serif;-webkit-text-stroke:0.2px #f3f0e6">INVESTMENT</div>
<div class="r" style="left:101.50px;top:35.30px;width:1.00px;height:9.30px;background:#9aa08f;"></div>
<div class="t" style="left:-180.00px;width:600px;text-align:center;top:37.77px;font-size:6.3px;color:#f3f0e6;font-weight:400;font-style:normal;font-family:'Liberation Serif',serif;-webkit-text-stroke:0.2px #f3f0e6">TARGET</div>
<div class="r" style="left:18.50px;top:104.00px;width:119.00px;height:9.00px;background:#828976;"></div>
<div class="r" style="left:18.50px;top:113.00px;width:84.00px;height:9.80px;background:#f8f6ef;"></div>
<div class="r" style="left:102.50px;top:113.00px;width:35.00px;height:9.80px;background:#f8f6ef;"></div>
<div class="r" style="left:18.50px;top:122.80px;width:84.00px;height:9.80px;background:#f8f6ef;"></div>
<div class="r" style="left:102.50px;top:122.80px;width:35.00px;height:9.80px;background:#f8f6ef;"></div>
<div class="r" style="left:18.50px;top:132.60px;width:84.00px;height:9.80px;background:#f8f6ef;"></div>
<div class="r" style="left:102.50px;top:132.60px;width:35.00px;height:9.80px;background:#f8f6ef;"></div>
<div class="r" style="left:18.50px;top:142.40px;width:84.00px;height:9.80px;background:#f8f6ef;"></div>
<div class="r" style="left:102.50px;top:142.40px;width:35.00px;height:9.80px;background:#f8f6ef;"></div>
<div class="r" style="left:18.50px;top:152.20px;width:84.00px;height:9.80px;background:#f8f6ef;"></div>
<div class="r" style="left:102.50px;top:152.20px;width:35.00px;height:9.80px;background:#f8f6ef;"></div>
<div class="r" style="left:18.50px;top:113.00px;width:119.00px;height:1.00px;background:#828976;"></div>
<div class="r" style="left:18.50px;top:122.80px;width:119.00px;height:1.00px;background:#d9d9d0;"></div>
<div class="r" style="left:18.50px;top:132.60px;width:119.00px;height:1.00px;background:#d9d9d0;"></div>
<div class="r" style="left:18.50px;top:142.40px;width:119.00px;height:1.00px;background:#d9d9d0;"></div>
<div class="r" style="left:18.50px;top:152.20px;width:119.00px;height:1.00px;background:#d9d9d0;"></div>
<div class="r" style="left:18.50px;top:162.00px;width:119.00px;height:1.00px;background:#d9d9d0;"></div>
<div class="r" style="left:18.50px;top:113.00px;width:1.00px;height:49.00px;background:#d9d9d0;"></div>
<div class="r" style="left:101.50px;top:113.00px;width:1.00px;height:49.00px;background:#d9d9d0;"></div>
<div class="r" style="left:136.50px;top:113.00px;width:1.00px;height:49.00px;background:#d9d9d0;"></div>
<div class="t" style="left:20.50px;top:115.84px;font-size:7px;color:#333;font-weight:400;font-style:italic;font-family:'Liberation Serif',serif;-webkit-text-stroke:0.05px #333">Purchase Price</div>
<div class="t" style="left:20.50px;top:125.64px;font-size:7px;color:#333;font-weight:400;font-style:italic;font-family:'Liberation Serif',serif;-webkit-text-stroke:0.05px #333">APR</div>
<div class="t" style="left:20.50px;top:135.44px;font-size:7px;color:#333;font-weight:400;font-style:italic;font-family:'Liberation Serif',serif;-webkit-text-stroke:0.05px #333">Down Payment</div>
<div class="t" style="left:20.50px;top:145.24px;font-size:7px;color:#333;font-weight:400;font-style:italic;font-family:'Liberation Serif',serif;-webkit-text-stroke:0.05px #333">Closing Costs</div>
<div class="t" style="left:20.50px;top:155.04px;font-size:7px;color:#333;font-weight:400;font-style:italic;font-family:'Liberation Serif',serif;-webkit-text-stroke:0.05px #333">Include Closing in Loan?</div>
<div class="t" style="left:-222.00px;width:600px;text-align:center;top:106.32px;font-size:6.3px;color:#f3f0e6;font-weight:400;font-style:normal;font-family:'Liberation Serif',serif;-webkit-text-stroke:0.2px #f3f0e6">FINANCING</div>
<div class="r" style="left:18.50px;top:172.70px;width:119.00px;height:8.90px;background:#828976;"></div>
<div class="r" style="left:18.50px;top:181.60px;width:84.00px;height:9.85px;background:#f8f6ef;"></div>
<div class="r" style="left:102.50px;top:181.60px;width:35.00px;height:9.85px;background:#f8f6ef;"></div>
<div class="r" style="left:18.50px;top:191.45px;width:84.00px;height:9.85px;background:#f8f6ef;"></div>
<div class="r" style="left:102.50px;top:191.45px;width:35.00px;height:9.85px;background:#f8f6ef;"></div>
<div class="r" style="left:18.50px;top:201.30px;width:84.00px;height:9.85px;background:#f8f6ef;"></div>
<div class="r" style="left:102.50px;top:201.30px;width:35.00px;height:9.85px;background:#f8f6ef;"></div>
<div class="r" style="left:18.50px;top:211.15px;width:84.00px;height:9.85px;background:#f8f6ef;"></div>
<div class="r" style="left:102.50px;top:211.15px;width:35.00px;height:9.85px;background:#f8f6ef;"></div>
<div class="r" style="left:18.50px;top:181.60px;width:119.00px;height:1.00px;background:#828976;"></div>
<div class="r" style="left:18.50px;top:191.45px;width:119.00px;height:1.00px;background:#d9d9d0;"></div>
<div class="r" style="left:18.50px;top:201.30px;width:119.00px;height:1.00px;background:#d9d9d0;"></div>
<div class="r" style="left:18.50px;top:211.15px;width:119.00px;height:1.00px;background:#d9d9d0;"></div>
<div class="r" style="left:18.50px;top:221.00px;width:119.00px;height:1.00px;background:#d9d9d0;"></div>
<div class="r" style="left:18.50px;top:181.60px;width:1.00px;height:39.40px;background:#d9d9d0;"></div>
<div class="r" style="left:101.50px;top:181.60px;width:1.00px;height:39.40px;background:#d9d9d0;"></div>
<div class="r" style="left:136.50px;top:181.60px;width:1.00px;height:39.40px;background:#d9d9d0;"></div>
<div class="t" style="left:20.50px;top:184.46px;font-size:7px;color:#333;font-weight:400;font-style:italic;font-family:'Liberation Serif',serif;-webkit-text-stroke:0.05px #333">Down Payment</div>
<div class="t" style="left:20.50px;top:194.31px;font-size:7px;color:#333;font-weight:400;font-style:italic;font-family:'Liberation Serif',serif;-webkit-text-stroke:0.05px #333">Closing Costs</div>
<div class="t" style="left:20.50px;top:204.16px;font-size:7px;color:#333;font-weight:400;font-style:italic;font-family:'Liberation Serif',serif;-webkit-text-stroke:0.05px #333">CapEx</div>
<div class="t" style="left:20.50px;top:214.01px;font-size:7px;color:#333;font-weight:400;font-style:italic;font-family:'Liberation Serif',serif;-webkit-text-stroke:0.05px #333">Additional Costs</div>
<div class="t" style="left:-225.50px;width:600px;text-align:center;top:174.97px;font-size:6.3px;color:#f3f0e6;font-weight:400;font-style:normal;font-family:'Liberation Serif',serif;-webkit-text-stroke:0.2px #f3f0e6">TOTAL CASH INVESTED</div>
<div class="r" style="left:18.50px;top:231.50px;width:119.00px;height:8.90px;background:#828976;"></div>
<div class="r" style="left:18.50px;top:240.40px;width:84.00px;height:9.90px;background:#f8f6ef;"></div>
<div class="r" style="left:102.50px;top:240.40px;width:35.00px;height:9.90px;background:#f8f6ef;"></div>
<div class="r" style="left:18.50px;top:250.30px;width:84.00px;height:9.90px;background:#f8f6ef;"></div>
<div class="r" style="left:102.50px;top:250.30px;width:35.00px;height:9.90px;background:#f8f6ef;"></div>
<div class="r" style="left:18.50px;top:260.20px;width:84.00px;height:9.90px;background:#f8f6ef;"></div>
<div class="r" style="left:102.50px;top:260.20px;width:35.00px;height:9.90px;background:#f8f6ef;"></div>
<div class="r" style="left:18.50px;top:240.40px;width:119.00px;height:1.00px;background:#828976;"></div>
<div class="r" style="left:18.50px;top:250.30px;width:119.00px;height:1.00px;background:#d9d9d0;"></div>
<div class="r" style="left:18.50px;top:260.20px;width:119.00px;height:1.00px;background:#d9d9d0;"></div>
<div class="r" style="left:18.50px;top:270.10px;width:119.00px;height:1.00px;background:#d9d9d0;"></div>
<div class="r" style="left:18.50px;top:240.40px;width:1.00px;height:29.70px;background:#d9d9d0;"></div>
<div class="r" style="left:101.50px;top:240.40px;width:1.00px;height:29.70px;background:#d9d9d0;"></div>
<div class="r" style="left:136.50px;top:240.40px;width:1.00px;height:29.70px;background:#d9d9d0;"></div>
<div class="t" style="left:20.50px;top:243.29px;font-size:7px;color:#333;font-weight:400;font-style:italic;font-family:'Liberation Serif',serif;-webkit-text-stroke:0.05px #333">Occupancy Rate</div>
<div class="t" style="left:20.50px;top:253.19px;font-size:7px;color:#333;font-weight:400;font-style:italic;font-family:'Liberation Serif',serif;-webkit-text-stroke:0.05px #333">Average Nights per Stay</div>
<div class="t" style="left:20.50px;top:263.09px;font-size:7px;color:#333;font-weight:400;font-style:italic;font-family:'Liberation Serif',serif;-webkit-text-stroke:0.05px #333">Percentage of Stays with Pets</div>
<div class="t" style="left:-222.00px;width:600px;text-align:center;top:233.77px;font-size:6.3px;color:#f3f0e6;font-weight:400;font-style:normal;font-family:'Liberation Serif',serif;-webkit-text-stroke:0.2px #f3f0e6">RENTAL DATA</div>
<div class="r" style="left:147.70px;top:35.20px;width:221.30px;height:9.20px;background:#828976;"></div>
<div class="r" style="left:147.70px;top:44.40px;width:115.70px;height:9.90px;background:#f8f6ef;"></div>
<div class="r" style="left:263.40px;top:44.40px;width:35.10px;height:9.90px;background:#828976;"></div>
<div class="r" style="left:298.50px;top:44.40px;width:34.50px;height:9.90px;background:#828976;"></div>
<div class="r" style="left:333.00px;top:44.40px;width:36.00px;height:9.90px;background:#828976;"></div>
<div class="r" style="left:147.70px;top:54.30px;width:115.70px;height:9.90px;background:#f8f6ef;"></div>
<div class="r" style="left:263.40px;top:54.30px;width:35.10px;height:9.90px;background:#d9e6ca;"></div>
<div class="r" style="left:298.50px;top:54.30px;width:34.50px;height:9.90px;background:#828976;"></div>
<div class="r" style="left:333.00px;top:54.30px;width:36.00px;height:9.90px;background:#828976;"></div>
<div class="r" style="left:147.70px;top:64.20px;width:115.70px;height:9.90px;background:#f8f6ef;"></div>
<div class="r" style="left:263.40px;top:64.20px;width:35.10px;height:9.90px;background:#d9e6ca;"></div>
<div class="r" style="left:298.50px;top:64.20px;width:34.50px;height:9.90px;background:#828976;"></div>
<div class="r" style="left:333.00px;top:64.20px;width:36.00px;height:9.90px;background:#828976;"></div>
<div class="r" style="left:147.70px;top:44.40px;width:221.30px;height:1.00px;background:#828976;"></div>
<div class="r" style="left:147.70px;top:54.30px;width:221.30px;height:1.00px;background:#d9d9d0;"></div>
<div class="r" style="left:147.70px;top:64.20px;width:221.30px;height:1.00px;background:#d9d9d0;"></div>
<div class="r" style="left:147.70px;top:74.10px;width:221.30px;height:1.00px;background:#d9d9d0;"></div>
<div class="r" style="left:147.70px;top:44.40px;width:1.00px;height:29.70px;background:#d9d9d0;"></div>
<div class="r" style="left:262.40px;top:44.40px;width:1.00px;height:29.70px;background:#d9d9d0;"></div>
<div class="r" style="left:297.50px;top:44.40px;width:1.00px;height:29.70px;background:#d9d9d0;"></div>
<div class="r" style="left:332.00px;top:44.40px;width:1.00px;height:29.70px;background:#d9d9d0;"></div>
<div class="r" style="left:368.00px;top:44.40px;width:1.00px;height:29.70px;background:#d9d9d0;"></div>
<div class="t" style="left:149.70px;top:47.29px;font-size:7px;color:#333;font-weight:400;font-style:italic;font-family:'Liberation Serif',serif;-webkit-text-stroke:0.05px #333">Rental Revenue</div>
<div class="t" style="left:15.75px;width:600px;text-align:center;top:47.29px;font-size:7px;color:#e9e6dc;font-weight:400;font-style:italic;font-family:'Liberation Serif',serif;-webkit-text-stroke:0.05px #e9e6dc">$4,950</div>
<div class="t" style="left:51.00px;width:600px;text-align:center;top:47.29px;font-size:7px;color:#e9e6dc;font-weight:400;font-style:italic;font-family:'Liberation Serif',serif;-webkit-text-stroke:0.05px #e9e6dc">$59,400</div>
<div class="t" style="left:149.70px;top:57.19px;font-size:7px;color:#333;font-weight:400;font-style:italic;font-family:'Liberation Serif',serif;-webkit-text-stroke:0.05px #333">Cleaning Fee</div>
<div class="t" style="left:-19.05px;width:600px;text-align:center;top:57.19px;font-size:7px;color:#222;font-weight:400;font-style:normal;font-family:'Liberation Serif',serif;-webkit-text-stroke:0.05px #222">$115</div>
<div class="t" style="left:15.75px;width:600px;text-align:center;top:57.19px;font-size:7px;color:#e9e6dc;font-weight:400;font-style:italic;font-family:'Liberation Serif',serif;-webkit-text-stroke:0.05px #e9e6dc">$911</div>
<div class="t" style="left:51.00px;width:600px;text-align:center;top:57.19px;font-size:7px;color:#e9e6dc;font-weight:400;font-style:italic;font-family:'Liberation Serif',serif;-webkit-text-stroke:0.05px #e9e6dc">$10,930</div>
<div class="t" style="left:149.70px;top:67.09px;font-size:7px;color:#333;font-weight:400;font-style:italic;font-family:'Liberation Serif',serif;-webkit-text-stroke:0.05px #333">Pet Fee</div>
<div class="t" style="left:-19.05px;width:600px;text-align:center;top:67.09px;font-size:7px;color:#222;font-weight:400;font-style:normal;font-family:'Liberation Serif',serif;-webkit-text-stroke:0.05px #222">$115</div>
<div class="t" style="left:15.75px;width:600px;text-align:center;top:67.09px;font-size:7px;color:#e9e6dc;font-weight:400;font-style:italic;font-family:'Liberation Serif',serif;-webkit-text-stroke:0.05px #e9e6dc">$569</div>
<div class="t" style="left:51.00px;width:600px;text-align:center;top:67.09px;font-size:7px;color:#e9e6dc;font-weight:400;font-style:italic;font-family:'Liberation Serif',serif;-webkit-text-stroke:0.05px #e9e6dc">$6,831</div>
<div class="t" style="left:-76.90px;width:600px;text-align:center;top:37.62px;font-size:6.3px;color:#f3f0e6;font-weight:400;font-style:normal;font-family:'Liberation Serif',serif;-webkit-text-stroke:0.2px #f3f0e6">REVENUE</div>
<div class="r" style="left:297.50px;top:35.20px;width:1.00px;height:9.20px;background:#9aa08f;"></div>
<div class="t" style="left:15.75px;width:600px;text-align:center;top:37.62px;font-size:6.3px;color:#f3f0e6;font-weight:400;font-style:normal;font-family:'Liberation Serif',serif;-webkit-text-stroke:0.2px #f3f0e6">MONTHLY</div>
<div class="r" style="left:332.00px;top:35.20px;width:1.00px;height:9.20px;background:#9aa08f;"></div>
<div class="t" style="left:51.00px;width:600px;text-align:center;top:37.62px;font-size:6.3px;color:#f3f0e6;font-weight:400;font-style:normal;font-family:'Liberation Serif',serif;-webkit-text-stroke:0.2px #f3f0e6">ANNUAL</div>
<div class="r" style="left:379.00px;top:35.30px;width:118.40px;height:9.30px;background:#828976;"></div>
<div class="r" style="left:379.00px;top:44.60px;width:81.00px;height:9.85px;background:#f8f6ef;"></div>
<div class="r" style="left:460.00px;top:44.60px;width:37.40px;height:9.85px;background:#d9e6ca;"></div>
<div class="r" style="left:379.00px;top:54.45px;width:81.00px;height:9.85px;background:#f8f6ef;"></div>
<div class="r" style="left:460.00px;top:54.45px;width:37.40px;height:9.85px;background:#d9e6ca;"></div>
<div class="r" style="left:379.00px;top:44.60px;width:118.40px;height:1.00px;background:#828976;"></div>
<div class="r" style="left:379.00px;top:54.45px;width:118.40px;height:1.00px;background:#d9d9d0;"></div>
<div class="r" style="left:379.00px;top:64.30px;width:118.40px;height:1.00px;background:#d9d9d0;"></div>
<div class="r" style="left:379.00px;top:44.60px;width:1.00px;height:19.70px;background:#d9d9d0;"></div>
<div class="r" style="left:459.00px;top:44.60px;width:1.00px;height:19.70px;background:#d9d9d0;"></div>
<div class="r" style="left:496.40px;top:44.60px;width:1.00px;height:19.70px;background:#d9d9d0;"></div>
<div class="t" style="left:381.00px;top:47.46px;font-size:7px;color:#333;font-weight:400;font-style:italic;font-family:'Liberation Serif',serif;-webkit-text-stroke:0.05px #333">Annual Home Appreciation</div>
<div class="t" style="left:178.70px;width:600px;text-align:center;top:47.46px;font-size:7px;color:#333;font-weight:400;font-style:normal;font-family:'Liberation Serif',serif;-webkit-text-stroke:0.05px #333">4.00%</div>
<div class="t" style="left:381.00px;top:57.31px;font-size:7px;color:#333;font-weight:400;font-style:italic;font-family:'Liberation Serif',serif;-webkit-text-stroke:0.05px #333">Annual Cash Flow Gain</div>
<div class="t" style="left:178.70px;width:600px;text-align:center;top:57.31px;font-size:7px;color:#333;font-weight:400;font-style:normal;font-family:'Liberation Serif',serif;-webkit-text-stroke:0.05px #333">1.50%</div>
<div class="t" style="left:138.20px;width:600px;text-align:center;top:37.77px;font-size:6.3px;color:#f3f0e6;font-weight:400;font-style:normal;font-family:'Liberation Serif',serif;-webkit-text-stroke:0.2px #f3f0e6">VALUATION DATA</div>
<div class="r" style="left:379.00px;top:74.00px;width:156.00px;height:1.00px;background:#d0d0c8;"></div>
</div>
<div class="shadow" style="left:260px;top:191px;width:550px;height:255px"></div>
<div class="card" style="left:260px;top:191px;width:550px;height:255px">
<div class="r" style="left:0.00px;top:0.00px;width:550.00px;height:21.00px;background:#828976;"></div>
<div class="r" style="left:0.00px;top:0.00px;width:9.00px;height:255.00px;background:#828976;"></div>
<div class="r" style="left:0.00px;top:127.60px;width:550.00px;height:20.40px;background:#828976;"></div>
<div class="t" style="left:11.00px;top:3.74px;font-size:15px;color:#f6f3ea;font-weight:400;font-style:normal;font-family:'Liberation Serif',serif;letter-spacing:0.45px;-webkit-text-stroke:0.3px #f6f3ea">CASH SUMMARY</div>
<div class="t" style="left:11.00px;top:22.94px;font-size:6.4px;color:#555;font-weight:400;font-style:italic;font-family:'Liberation Serif',serif;">Decision to proceed with Investment is notated as a "Yes" vs "No" based on your Target figures</div>
<div class="t" style="left:-214.70px;width:600px;text-align:center;top:34.28px;font-size:11.6px;color:#2a2a2a;font-weight:400;font-style:normal;font-family:'Liberation Serif',serif;-webkit-text-stroke:0.2px #2a2a2a;letter-spacing:-0.15px">Cash Invested</div>
<div class="t" style="left:-193.30px;width:600px;text-align:center;top:46.38px;font-size:30px;color:#333;font-weight:400;font-style:normal;font-family:'Liberation Serif',serif;"><span class="ds">$</span><span class="da">6</span><span class="dx">0</span>,<span class="dd">4</span><span class="dx">0</span><span class="dx">0</span></div>
<svg style="position:absolute;left:54.70px;top:78.70px" width="8" height="8" viewBox="0 0 8 8"><path d="M3.6 7.6 V0.9 M0.6 3.9 L3.6 0.9 L6.6 3.9" fill="none" stroke="#e05252" stroke-width="1.25" stroke-linejoin="miter"/></svg>
<div class="t" style="left:64.00px;top:75.68px;font-size:11.6px;color:#e05252;font-weight:700;font-style:normal;font-family:'Liberation Serif',serif;">$10,400</div>
<div class="t" style="left:108.00px;top:75.85px;font-size:11.4px;color:#777;font-weight:400;font-style:normal;font-family:'Liberation Serif',serif;">vs. Target</div>
<div class="t" style="left:-193.50px;width:600px;text-align:center;top:93.86px;font-size:17.6px;color:#2e2e2e;font-weight:400;font-style:normal;font-family:'Liberation Serif',serif;">NO</div>
<div class="t" style="left:-28.40px;width:600px;text-align:center;top:34.42px;font-size:11.2px;color:#2a2a2a;font-weight:400;font-style:normal;font-family:'Liberation Serif',serif;-webkit-text-stroke:0.2px #2a2a2a;letter-spacing:0px">Monthly Cash Flow</div>
<div class="t" style="left:-19.50px;width:600px;text-align:center;top:47.38px;font-size:27.6px;color:#333;font-weight:400;font-style:normal;font-family:'Liberation Serif',serif;"><span class="ds">$</span><span class="dx">2</span>,<span class="dx">0</span><span class="da">6</span><span class="dx">1</span></div>
<svg style="position:absolute;left:228.30px;top:78.70px" width="8" height="8" viewBox="0 0 8 8"><path d="M3.6 7.6 V0.9 M0.6 3.9 L3.6 0.9 L6.6 3.9" fill="none" stroke="#45b065" stroke-width="1.25" stroke-linejoin="miter"/></svg>
<div class="t" style="left:237.50px;top:75.68px;font-size:11.6px;color:#45b065;font-weight:700;font-style:normal;font-family:'Liberation Serif',serif;">$461</div>
<div class="t" style="left:266.00px;top:75.85px;font-size:11.4px;color:#777;font-weight:400;font-style:normal;font-family:'Liberation Serif',serif;">vs. Target</div>
<div class="t" style="left:-19.50px;width:600px;text-align:center;top:94.18px;font-size:16.5px;color:#2e2e2e;font-weight:400;font-style:normal;font-family:'Liberation Serif',serif;">YES</div>
<div class="t" style="left:151.00px;width:600px;text-align:center;top:35.94px;font-size:11.3px;color:#2a2a2a;font-weight:400;font-style:normal;font-family:'Liberation Serif',serif;-webkit-text-stroke:0.2px #2a2a2a;letter-spacing:-0.1px">Monthly CF Breakdown</div>
<svg style="position:absolute;left:0;top:0" width="550" height="255"><path d="M450.80,83.80 L450.80,50.60 A33.2,33.2 0 1 1 426.13,106.02 Z" fill="#b4dfc9"/><path d="M450.80,83.80 L426.13,106.02 A33.2,33.2 0 0 1 425.55,62.24 Z" fill="#e9a1a1"/><path d="M450.80,83.80 L425.55,62.24 A33.2,33.2 0 0 1 450.80,50.60 Z" fill="#f6c898"/><circle cx="450.80" cy="83.80" r="8.2" fill="#f8f6ef"/></svg>
<div class="t" style="left:130.00px;width:600px;text-align:center;top:82.01px;font-size:5px;color:#333;font-weight:700;font-style:normal;font-family:'Liberation Serif',serif;">$27,991</div>
<div class="t" style="left:170.00px;width:600px;text-align:center;top:89.41px;font-size:5px;color:#333;font-weight:700;font-style:normal;font-family:'Liberation Serif',serif;">$77,161</div>
<div class="t" style="left:11.00px;top:131.64px;font-size:15px;color:#f6f3ea;font-weight:400;font-style:normal;font-family:'Liberation Serif',serif;letter-spacing:0.2px;-webkit-text-stroke:0.3px #f6f3ea">10-YEAR FORECAST</div>
<div class="r" style="left:9.00px;top:154.00px;width:541.00px;height:1.00px;background:#dedcd3;"></div>
<div class="r" style="left:9.00px;top:163.20px;width:541.00px;height:1.00px;background:#dedcd3;"></div>
<div class="r" style="left:9.00px;top:172.40px;width:541.00px;height:1.00px;background:#dedcd3;"></div>
<div class="r" style="left:9.00px;top:181.60px;width:541.00px;height:1.00px;background:#dedcd3;"></div>
<div class="r" style="left:9.00px;top:190.80px;width:541.00px;height:1.00px;background:#dedcd3;"></div>
<div class="r" style="left:9.00px;top:200.00px;width:541.00px;height:1.00px;background:#dedcd3;"></div>
<div class="r" style="left:69.00px;top:154.00px;width:1.00px;height:46.00px;background:#dedcd3;"></div>
<div class="r" style="left:117.00px;top:154.00px;width:1.00px;height:46.00px;background:#dedcd3;"></div>
<div class="r" style="left:165.00px;top:154.00px;width:1.00px;height:46.00px;background:#dedcd3;"></div>
<div class="r" style="left:213.00px;top:154.00px;width:1.00px;height:46.00px;background:#dedcd3;"></div>
<div class="r" style="left:261.00px;top:154.00px;width:1.00px;height:46.00px;background:#dedcd3;"></div>
<div class="r" style="left:309.00px;top:154.00px;width:1.00px;height:46.00px;background:#dedcd3;"></div>
<div class="r" style="left:357.00px;top:154.00px;width:1.00px;height:46.00px;background:#dedcd3;"></div>
<div class="r" style="left:405.00px;top:154.00px;width:1.00px;height:46.00px;background:#dedcd3;"></div>
<div class="r" style="left:453.00px;top:154.00px;width:1.00px;height:46.00px;background:#dedcd3;"></div>
<div class="r" style="left:501.00px;top:154.00px;width:1.00px;height:46.00px;background:#dedcd3;"></div>
<div class="r" style="left:549.00px;top:154.00px;width:1.00px;height:46.00px;background:#dedcd3;"></div>
<div class="t" style="left:-207.00px;width:600px;text-align:center;top:157.14px;font-size:5.8px;color:#555;font-weight:400;font-style:normal;font-family:'Liberation Serif',serif;">Year</div>
<div class="t" style="left:-159.00px;width:600px;text-align:center;top:157.14px;font-size:5.8px;color:#555;font-weight:400;font-style:normal;font-family:'Liberation Serif',serif;">Year</div>
<div class="t" style="left:-111.00px;width:600px;text-align:center;top:157.14px;font-size:5.8px;color:#555;font-weight:400;font-style:normal;font-family:'Liberation Serif',serif;">Year</div>
<div class="t" style="left:-63.00px;width:600px;text-align:center;top:157.14px;font-size:5.8px;color:#555;font-weight:400;font-style:normal;font-family:'Liberation Serif',serif;">Year</div>
<div class="t" style="left:-15.00px;width:600px;text-align:center;top:157.14px;font-size:5.8px;color:#555;font-weight:400;font-style:normal;font-family:'Liberation Serif',serif;">Year</div>
<div class="t" style="left:33.00px;width:600px;text-align:center;top:157.14px;font-size:5.8px;color:#555;font-weight:400;font-style:normal;font-family:'Liberation Serif',serif;">Year</div>
<div class="t" style="left:81.00px;width:600px;text-align:center;top:157.14px;font-size:5.8px;color:#555;font-weight:400;font-style:normal;font-family:'Liberation Serif',serif;">Year</div>
<div class="t" style="left:129.00px;width:600px;text-align:center;top:157.14px;font-size:5.8px;color:#555;font-weight:400;font-style:normal;font-family:'Liberation Serif',serif;">Year</div>
<div class="t" style="left:177.00px;width:600px;text-align:center;top:157.14px;font-size:5.8px;color:#555;font-weight:400;font-style:normal;font-family:'Liberation Serif',serif;">Year</div>
<div class="t" style="left:225.00px;width:600px;text-align:center;top:157.14px;font-size:5.8px;color:#555;font-weight:400;font-style:normal;font-family:'Liberation Serif',serif;">Year</div>
<div class="t" style="left:-207.00px;width:600px;text-align:center;top:166.34px;font-size:5.8px;color:#555;font-weight:400;font-style:normal;font-family:'Liberation Serif',serif;">1</div>
<div class="t" style="left:-159.00px;width:600px;text-align:center;top:166.34px;font-size:5.8px;color:#555;font-weight:400;font-style:normal;font-family:'Liberation Serif',serif;">2</div>
<div class="t" style="left:-111.00px;width:600px;text-align:center;top:166.34px;font-size:5.8px;color:#555;font-weight:400;font-style:normal;font-family:'Liberation Serif',serif;">3</div>
<div class="t" style="left:-63.00px;width:600px;text-align:center;top:166.34px;font-size:5.8px;color:#555;font-weight:400;font-style:normal;font-family:'Liberation Serif',serif;">4</div>
<div class="t" style="left:-15.00px;width:600px;text-align:center;top:166.34px;font-size:5.8px;color:#555;font-weight:400;font-style:normal;font-family:'Liberation Serif',serif;">5</div>
<div class="t" style="left:33.00px;width:600px;text-align:center;top:166.34px;font-size:5.8px;color:#555;font-weight:400;font-style:normal;font-family:'Liberation Serif',serif;">6</div>
<div class="t" style="left:81.00px;width:600px;text-align:center;top:166.34px;font-size:5.8px;color:#555;font-weight:400;font-style:normal;font-family:'Liberation Serif',serif;">7</div>
<div class="t" style="left:129.00px;width:600px;text-align:center;top:166.34px;font-size:5.8px;color:#555;font-weight:400;font-style:normal;font-family:'Liberation Serif',serif;">8</div>
<div class="t" style="left:177.00px;width:600px;text-align:center;top:166.34px;font-size:5.8px;color:#555;font-weight:400;font-style:normal;font-family:'Liberation Serif',serif;">9</div>
<div class="t" style="left:225.00px;width:600px;text-align:center;top:166.34px;font-size:5.8px;color:#555;font-weight:400;font-style:normal;font-family:'Liberation Serif',serif;">10</div>
<div class="t" style="left:11.00px;top:175.71px;font-size:5.6px;color:#666;font-weight:400;font-style:normal;font-family:'Liberation Serif',serif;">CASH FLOW</div>
<div class="t" style="left:-207.00px;width:600px;text-align:center;top:175.54px;font-size:5.8px;color:#555;font-weight:400;font-style:normal;font-family:'Liberation Serif',serif;">$32,172</div>
<div class="t" style="left:-159.00px;width:600px;text-align:center;top:175.54px;font-size:5.8px;color:#555;font-weight:400;font-style:normal;font-family:'Liberation Serif',serif;">$32,655</div>
<div class="t" style="left:-111.00px;width:600px;text-align:center;top:175.54px;font-size:5.8px;color:#555;font-weight:400;font-style:normal;font-family:'Liberation Serif',serif;">$33,145</div>
<div class="t" style="left:-63.00px;width:600px;text-align:center;top:175.54px;font-size:5.8px;color:#555;font-weight:400;font-style:normal;font-family:'Liberation Serif',serif;">$33,642</div>
<div class="t" style="left:-15.00px;width:600px;text-align:center;top:175.54px;font-size:5.8px;color:#555;font-weight:400;font-style:normal;font-family:'Liberation Serif',serif;">$34,147</div>
<div class="t" style="left:33.00px;width:600px;text-align:center;top:175.54px;font-size:5.8px;color:#555;font-weight:400;font-style:normal;font-family:'Liberation Serif',serif;">$34,659</div>
<div class="t" style="left:81.00px;width:600px;text-align:center;top:175.54px;font-size:5.8px;color:#555;font-weight:400;font-style:normal;font-family:'Liberation Serif',serif;">$35,179</div>
<div class="t" style="left:129.00px;width:600px;text-align:center;top:175.54px;font-size:5.8px;color:#555;font-weight:400;font-style:normal;font-family:'Liberation Serif',serif;">$35,706</div>
<div class="t" style="left:177.00px;width:600px;text-align:center;top:175.54px;font-size:5.8px;color:#555;font-weight:400;font-style:normal;font-family:'Liberation Serif',serif;">$36,242</div>
<div class="t" style="left:225.00px;width:600px;text-align:center;top:175.54px;font-size:5.8px;color:#555;font-weight:400;font-style:normal;font-family:'Liberation Serif',serif;">$36,785</div>
<div class="t" style="left:11.00px;top:184.91px;font-size:5.6px;color:#666;font-weight:400;font-style:normal;font-family:'Liberation Serif',serif;">ANNUAL GAIN</div>
<div class="t" style="left:-207.00px;width:600px;text-align:center;top:184.74px;font-size:5.8px;color:#555;font-weight:400;font-style:normal;font-family:'Liberation Serif',serif;">$83,484</div>
<div class="t" style="left:-159.00px;width:600px;text-align:center;top:184.74px;font-size:5.8px;color:#555;font-weight:400;font-style:normal;font-family:'Liberation Serif',serif;">$111,549</div>
<div class="t" style="left:-111.00px;width:600px;text-align:center;top:184.74px;font-size:5.8px;color:#555;font-weight:400;font-style:normal;font-family:'Liberation Serif',serif;">$140,548</div>
<div class="t" style="left:-63.00px;width:600px;text-align:center;top:184.74px;font-size:5.8px;color:#555;font-weight:400;font-style:normal;font-family:'Liberation Serif',serif;">$170,519</div>
<div class="t" style="left:-15.00px;width:600px;text-align:center;top:184.74px;font-size:5.8px;color:#555;font-weight:400;font-style:normal;font-family:'Liberation Serif',serif;">$201,507</div>
<div class="t" style="left:33.00px;width:600px;text-align:center;top:184.74px;font-size:5.8px;color:#555;font-weight:400;font-style:normal;font-family:'Liberation Serif',serif;">$233,553</div>
<div class="t" style="left:81.00px;width:600px;text-align:center;top:184.74px;font-size:5.8px;color:#555;font-weight:400;font-style:normal;font-family:'Liberation Serif',serif;">$266,704</div>
<div class="t" style="left:129.00px;width:600px;text-align:center;top:184.74px;font-size:5.8px;color:#555;font-weight:400;font-style:normal;font-family:'Liberation Serif',serif;">$301,009</div>
<div class="t" style="left:177.00px;width:600px;text-align:center;top:184.74px;font-size:5.8px;color:#555;font-weight:400;font-style:normal;font-family:'Liberation Serif',serif;">$336,516</div>
<div class="t" style="left:225.00px;width:600px;text-align:center;top:184.74px;font-size:5.8px;color:#555;font-weight:400;font-style:normal;font-family:'Liberation Serif',serif;">$373,279</div>
<div class="t" style="left:11.00px;top:194.11px;font-size:5.6px;color:#666;font-weight:400;font-style:normal;font-family:'Liberation Serif',serif;">CUMULATIVE GAIN</div>
<div class="t" style="left:-207.00px;width:600px;text-align:center;top:193.94px;font-size:5.8px;color:#555;font-weight:400;font-style:normal;font-family:'Liberation Serif',serif;">$83,484</div>
<div class="t" style="left:-159.00px;width:600px;text-align:center;top:193.94px;font-size:5.8px;color:#555;font-weight:400;font-style:normal;font-family:'Liberation Serif',serif;">$143,722</div>
<div class="t" style="left:-111.00px;width:600px;text-align:center;top:193.94px;font-size:5.8px;color:#555;font-weight:400;font-style:normal;font-family:'Liberation Serif',serif;">$205,375</div>
<div class="t" style="left:-63.00px;width:600px;text-align:center;top:193.94px;font-size:5.8px;color:#555;font-weight:400;font-style:normal;font-family:'Liberation Serif',serif;">$268,491</div>
<div class="t" style="left:-15.00px;width:600px;text-align:center;top:193.94px;font-size:5.8px;color:#555;font-weight:400;font-style:normal;font-family:'Liberation Serif',serif;">$333,120</div>
<div class="t" style="left:33.00px;width:600px;text-align:center;top:193.94px;font-size:5.8px;color:#555;font-weight:400;font-style:normal;font-family:'Liberation Serif',serif;">$399,313</div>
<div class="t" style="left:81.00px;width:600px;text-align:center;top:193.94px;font-size:5.8px;color:#555;font-weight:400;font-style:normal;font-family:'Liberation Serif',serif;">$467,123</div>
<div class="t" style="left:129.00px;width:600px;text-align:center;top:193.94px;font-size:5.8px;color:#555;font-weight:400;font-style:normal;font-family:'Liberation Serif',serif;">$536,606</div>
<div class="t" style="left:177.00px;width:600px;text-align:center;top:193.94px;font-size:5.8px;color:#555;font-weight:400;font-style:normal;font-family:'Liberation Serif',serif;">$607,820</div>
<div class="t" style="left:225.00px;width:600px;text-align:center;top:193.94px;font-size:5.8px;color:#555;font-weight:400;font-style:normal;font-family:'Liberation Serif',serif;">$680,825</div>
<div class="t" style="left:16.50px;top:209.25px;font-size:12px;color:#333;font-weight:700;font-style:normal;font-family:'Liberation Serif',serif;letter-spacing:0.1px">Year 1</div>
<div class="t" style="left:-199.60px;width:600px;text-align:center;top:221.21px;font-size:29px;color:#383838;font-weight:400;font-style:normal;font-family:'Liberation Serif',serif;"><span class="ds">$</span><span class="da">8</span><span class="dd">3</span>,<span class="dd">4</span><span class="da">8</span><span class="dd">4</span></div>
<div class="t" style="left:22.40px;top:253.23px;font-size:10px;color:#777;font-weight:400;font-style:normal;font-family:'Liberation Serif',serif;"><span style="color:#3aa85a;font-weight:700">&#8593; $83,484</span> Value Generated in First Year</div>
<div class="t" style="left:197.00px;top:209.25px;font-size:12px;color:#333;font-weight:700;font-style:normal;font-family:'Liberation Serif',serif;letter-spacing:0.1px">Year 5</div>
<div class="t" style="left:-19.70px;width:600px;text-align:center;top:221.21px;font-size:29px;color:#383838;font-weight:400;font-style:normal;font-family:'Liberation Serif',serif;"><span class="ds">$</span><span class="dd">3</span><span class="dd">3</span><span class="dd">3</span>,<span class="dx">1</span><span class="dx">2</span><span class="dx">0</span></div>
<div class="t" style="left:202.30px;top:253.23px;font-size:10px;color:#777;font-weight:400;font-style:normal;font-family:'Liberation Serif',serif;"><span style="color:#3aa85a;font-weight:700">&#8593; $333,120</span> Value Generated Since Year 1</div>
<div class="t" style="left:377.00px;top:209.25px;font-size:12px;color:#333;font-weight:700;font-style:normal;font-family:'Liberation Serif',serif;letter-spacing:0.1px">Year 10</div>
<div class="t" style="left:160.60px;width:600px;text-align:center;top:221.21px;font-size:29px;color:#383838;font-weight:400;font-style:normal;font-family:'Liberation Serif',serif;"><span class="ds">$</span><span class="da">6</span><span class="da">8</span><span class="dx">0</span>,<span class="da">8</span><span class="dx">2</span><span class="dd">5</span></div>
<div class="t" style="left:382.60px;top:253.23px;font-size:10px;color:#777;font-weight:400;font-style:normal;font-family:'Liberation Serif',serif;"><span style="color:#3aa85a;font-weight:700">&#8593; $680,825</span> Value Generated Since Year 1</div>
</div>
<svg style="position:absolute;left:180px;top:476px" width="32" height="30" viewBox="0 0 32 30"><path d="M26.43 11.2 A11.1 11.1 0 1 1 21.72 5.49" fill="none" stroke="#f6f3ea" stroke-width="1.9" stroke-linecap="round"/><path d="M9.5 14.6 L14.7 20.5 L27.8 5.8" fill="none" stroke="#f6f3ea" stroke-width="2.8" stroke-linecap="round" stroke-linejoin="round"/></svg>
<svg style="position:absolute;left:180px;top:510.3px" width="32" height="30" viewBox="0 0 32 30"><path d="M26.43 11.2 A11.1 11.1 0 1 1 21.72 5.49" fill="none" stroke="#f6f3ea" stroke-width="1.9" stroke-linecap="round"/><path d="M9.5 14.6 L14.7 20.5 L27.8 5.8" fill="none" stroke="#f6f3ea" stroke-width="2.8" stroke-linecap="round" stroke-linejoin="round"/></svg>
<div class="t" style="left:219.00px;top:479.97px;font-size:20px;color:#f6f3ea;font-weight:400;font-style:normal;font-family:'Liberation Sans',sans-serif;-webkit-text-stroke:0.35px #f6f3ea;transform:scaleX(1.128);transform-origin:0 0">Use to estimate profitability <i>before</i> purchasing a property</div>
<div class="t" style="left:219.00px;top:514.27px;font-size:20px;color:#f6f3ea;font-weight:400;font-style:normal;font-family:'Liberation Sans',sans-serif;-webkit-text-stroke:0.35px #f6f3ea;transform:scaleX(1.124);transform-origin:0 0">Feel confident <i>before</i> you purchase that "the numbers work"</div>
</body></html>
